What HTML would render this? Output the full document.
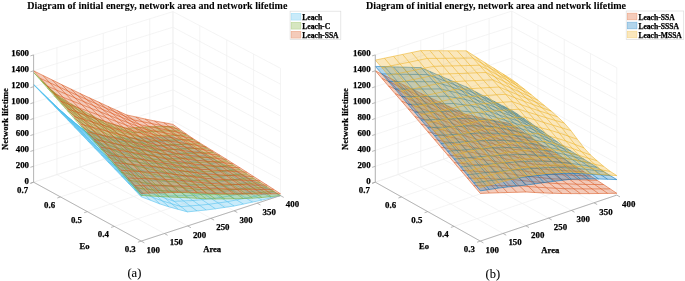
<!DOCTYPE html>
<html><head><meta charset="utf-8"><style>
html,body{margin:0;padding:0;background:#fff;width:685px;height:281px;overflow:hidden}
svg{display:block;will-change:transform}
text{font-family:"Liberation Serif",serif;fill:#000;stroke:#000;stroke-width:0.25px}
</style></head><body><svg width="685" height="281" viewBox="0 0 685 281" font-family="Liberation Serif, serif" fill="#000"><line x1="33.6" y1="182.2" x2="33.6" y2="54.9" stroke="#efefef" stroke-width="0.7"/><line x1="56.9" y1="174.6" x2="56.9" y2="47.7" stroke="#efefef" stroke-width="0.7"/><line x1="80.1" y1="167" x2="80.1" y2="40.5" stroke="#efefef" stroke-width="0.7"/><line x1="103.3" y1="159.4" x2="103.3" y2="33.2" stroke="#efefef" stroke-width="0.7"/><line x1="126.5" y1="151.9" x2="126.5" y2="26" stroke="#efefef" stroke-width="0.7"/><line x1="149.7" y1="144.3" x2="149.7" y2="18.8" stroke="#efefef" stroke-width="0.7"/><line x1="173" y1="136.7" x2="173" y2="11.6" stroke="#efefef" stroke-width="0.7"/><line x1="33.6" y1="182.2" x2="173" y2="136.7" stroke="#efefef" stroke-width="0.7"/><line x1="33.6" y1="166.3" x2="173" y2="121.1" stroke="#efefef" stroke-width="0.7"/><line x1="33.6" y1="150.4" x2="173" y2="105.4" stroke="#efefef" stroke-width="0.7"/><line x1="33.6" y1="134.5" x2="173" y2="89.8" stroke="#efefef" stroke-width="0.7"/><line x1="33.6" y1="118.5" x2="173" y2="74.1" stroke="#efefef" stroke-width="0.7"/><line x1="33.6" y1="102.6" x2="173" y2="58.5" stroke="#efefef" stroke-width="0.7"/><line x1="33.6" y1="86.7" x2="173" y2="42.8" stroke="#efefef" stroke-width="0.7"/><line x1="33.6" y1="70.8" x2="173" y2="27.2" stroke="#efefef" stroke-width="0.7"/><line x1="33.6" y1="54.9" x2="173" y2="11.6" stroke="#efefef" stroke-width="0.7"/><line x1="280.5" y1="195.6" x2="280.5" y2="68.3" stroke="#efefef" stroke-width="0.7"/><line x1="253.6" y1="180.9" x2="253.6" y2="54.1" stroke="#efefef" stroke-width="0.7"/><line x1="226.7" y1="166.1" x2="226.7" y2="39.9" stroke="#efefef" stroke-width="0.7"/><line x1="199.8" y1="151.4" x2="199.8" y2="25.7" stroke="#efefef" stroke-width="0.7"/><line x1="173" y1="136.7" x2="173" y2="11.6" stroke="#efefef" stroke-width="0.7"/><line x1="173" y1="136.7" x2="280.5" y2="195.6" stroke="#efefef" stroke-width="0.7"/><line x1="173" y1="121.1" x2="280.5" y2="179.7" stroke="#efefef" stroke-width="0.7"/><line x1="173" y1="105.4" x2="280.5" y2="163.8" stroke="#efefef" stroke-width="0.7"/><line x1="173" y1="89.8" x2="280.5" y2="147.9" stroke="#efefef" stroke-width="0.7"/><line x1="173" y1="74.1" x2="280.5" y2="131.9" stroke="#efefef" stroke-width="0.7"/><line x1="173" y1="58.5" x2="280.5" y2="116" stroke="#efefef" stroke-width="0.7"/><line x1="173" y1="42.8" x2="280.5" y2="100.1" stroke="#efefef" stroke-width="0.7"/><line x1="173" y1="27.2" x2="280.5" y2="84.2" stroke="#efefef" stroke-width="0.7"/><line x1="173" y1="11.6" x2="280.5" y2="68.3" stroke="#efefef" stroke-width="0.7"/><line x1="33.6" y1="182.2" x2="141.2" y2="241.1" stroke="#efefef" stroke-width="0.7"/><line x1="56.9" y1="174.6" x2="164.4" y2="233.5" stroke="#efefef" stroke-width="0.7"/><line x1="80.1" y1="167" x2="187.6" y2="225.9" stroke="#efefef" stroke-width="0.7"/><line x1="103.3" y1="159.4" x2="210.8" y2="218.3" stroke="#efefef" stroke-width="0.7"/><line x1="126.5" y1="151.9" x2="234.1" y2="210.8" stroke="#efefef" stroke-width="0.7"/><line x1="149.7" y1="144.3" x2="257.3" y2="203.2" stroke="#efefef" stroke-width="0.7"/><line x1="173" y1="136.7" x2="280.5" y2="195.6" stroke="#efefef" stroke-width="0.7"/><line x1="141.2" y1="241.1" x2="280.5" y2="195.6" stroke="#efefef" stroke-width="0.7"/><line x1="114.3" y1="226.4" x2="253.6" y2="180.9" stroke="#efefef" stroke-width="0.7"/><line x1="87.4" y1="211.6" x2="226.7" y2="166.1" stroke="#efefef" stroke-width="0.7"/><line x1="60.5" y1="196.9" x2="199.8" y2="151.4" stroke="#efefef" stroke-width="0.7"/><line x1="33.6" y1="182.2" x2="173" y2="136.7" stroke="#efefef" stroke-width="0.7"/><path d="M141.2,196.8 150.5,200.3 143.8,193.6 134.5,189.7ZM150.5,200.3 159.8,203.9 153.1,197.5 143.8,193.6ZM159.8,203.9 169.1,206.9 162.3,200.9 153.1,197.5ZM169.1,206.9 178.3,209.4 171.6,203.7 162.3,200.9ZM178.3,209.4 187.6,211.9 180.9,206.6 171.6,203.7ZM187.6,211.9 196.9,210.9 190.2,205.9 180.9,206.6ZM196.9,210.9 206.2,210 199.5,205.2 190.2,205.9ZM206.2,210 215.5,208.8 208.8,204.3 199.5,205.2ZM215.5,208.8 224.8,207.4 218.1,203 208.8,204.3ZM224.8,207.4 234.1,206 227.3,201.7 218.1,203ZM234.1,206 243.4,204.1 236.6,199.9 227.3,201.7ZM243.4,204.1 252.6,202.1 245.9,198.1 236.6,199.9ZM252.6,202.1 261.9,200.1 255.2,196.2 245.9,198.1ZM261.9,200.1 271.2,197.8 264.5,194 255.2,196.2ZM271.2,197.8 280.5,195.6 273.8,191.9 264.5,194ZM134.5,189.7 143.8,193.6 137,186.9 127.8,182.7ZM143.8,193.6 153.1,197.5 146.3,191.2 137,186.9ZM153.1,197.5 162.3,200.9 155.6,194.9 146.3,191.2ZM162.3,200.9 171.6,203.7 164.9,198.1 155.6,194.9ZM171.6,203.7 180.9,206.6 174.2,201.3 164.9,198.1ZM180.9,206.6 190.2,205.9 183.5,200.9 174.2,201.3ZM190.2,205.9 199.5,205.2 192.8,200.5 183.5,200.9ZM199.5,205.2 208.8,204.3 202,199.7 192.8,200.5ZM208.8,204.3 218.1,203 211.3,198.6 202,199.7ZM218.1,203 227.3,201.7 220.6,197.5 211.3,198.6ZM227.3,201.7 236.6,199.9 229.9,195.8 220.6,197.5ZM236.6,199.9 245.9,198.1 239.2,194.1 229.9,195.8ZM245.9,198.1 255.2,196.2 248.5,192.3 239.2,194.1ZM255.2,196.2 264.5,194 257.8,190.3 248.5,192.3ZM264.5,194 273.8,191.9 267.1,188.2 257.8,190.3ZM127.8,182.7 137,186.9 130.3,180.2 121,175.6ZM137,186.9 146.3,191.2 139.6,184.8 130.3,180.2ZM146.3,191.2 155.6,194.9 148.9,188.9 139.6,184.8ZM155.6,194.9 164.9,198.1 158.2,192.4 148.9,188.9ZM164.9,198.1 174.2,201.3 167.5,196 158.2,192.4ZM174.2,201.3 183.5,200.9 176.8,195.8 167.5,196ZM183.5,200.9 192.8,200.5 186,195.7 176.8,195.8ZM192.8,200.5 202,199.7 195.3,195.2 186,195.7ZM202,199.7 211.3,198.6 204.6,194.2 195.3,195.2ZM211.3,198.6 220.6,197.5 213.9,193.2 204.6,194.2ZM220.6,197.5 229.9,195.8 223.2,191.7 213.9,193.2ZM229.9,195.8 239.2,194.1 232.5,190.1 223.2,191.7ZM239.2,194.1 248.5,192.3 241.8,188.4 232.5,190.1ZM248.5,192.3 257.8,190.3 251,186.5 241.8,188.4ZM257.8,190.3 267.1,188.2 260.3,184.6 251,186.5ZM121,175.6 130.3,180.2 123.6,173.5 114.3,168.6ZM130.3,180.2 139.6,184.8 132.9,178.5 123.6,173.5ZM139.6,184.8 148.9,188.9 142.2,182.9 132.9,178.5ZM148.9,188.9 158.2,192.4 151.5,186.8 142.2,182.9ZM158.2,192.4 167.5,196 160.7,190.7 151.5,186.8ZM167.5,196 176.8,195.8 170,190.8 160.7,190.7ZM176.8,195.8 186,195.7 179.3,191 170,190.8ZM186,195.7 195.3,195.2 188.6,190.6 179.3,191ZM195.3,195.2 204.6,194.2 197.9,189.8 188.6,190.6ZM204.6,194.2 213.9,193.2 207.2,189 197.9,189.8ZM213.9,193.2 223.2,191.7 216.5,187.5 207.2,189ZM223.2,191.7 232.5,190.1 225.8,186.1 216.5,187.5ZM232.5,190.1 241.8,188.4 235,184.5 225.8,186.1ZM241.8,188.4 251,186.5 244.3,182.7 235,184.5ZM251,186.5 260.3,184.6 253.6,180.9 244.3,182.7ZM114.3,168.6 123.6,173.5 116.9,166.8 107.6,161.6ZM123.6,173.5 132.9,178.5 126.2,172.1 116.9,166.8ZM132.9,178.5 142.2,182.9 135.5,176.9 126.2,172.1ZM142.2,182.9 151.5,186.8 144.7,181.1 135.5,176.9ZM151.5,186.8 160.7,190.7 154,185.4 144.7,181.1ZM160.7,190.7 170,190.8 163.3,185.8 154,185.4ZM170,190.8 179.3,191 172.6,186.2 163.3,185.8ZM179.3,191 188.6,190.6 181.9,186.1 172.6,186.2ZM188.6,190.6 197.9,189.8 191.2,185.4 181.9,186.1ZM197.9,189.8 207.2,189 200.5,184.7 191.2,185.4ZM207.2,189 216.5,187.5 209.7,183.4 200.5,184.7ZM216.5,187.5 225.8,186.1 219,182.1 209.7,183.4ZM225.8,186.1 235,184.5 228.3,180.6 219,182.1ZM235,184.5 244.3,182.7 237.6,178.9 228.3,180.6ZM244.3,182.7 253.6,180.9 246.9,177.2 237.6,178.9ZM107.6,161.6 116.9,166.8 110.2,160.2 100.9,154.5ZM116.9,166.8 126.2,172.1 119.4,165.8 110.2,160.2ZM126.2,172.1 135.5,176.9 128.7,170.9 119.4,165.8ZM135.5,176.9 144.7,181.1 138,175.5 128.7,170.9ZM144.7,181.1 154,185.4 147.3,180.1 138,175.5ZM154,185.4 163.3,185.8 156.6,180.8 147.3,180.1ZM163.3,185.8 172.6,186.2 165.9,181.5 156.6,180.8ZM172.6,186.2 181.9,186.1 175.2,181.5 165.9,181.5ZM181.9,186.1 191.2,185.4 184.4,181 175.2,181.5ZM191.2,185.4 200.5,184.7 193.7,180.5 184.4,181ZM200.5,184.7 209.7,183.4 203,179.3 193.7,180.5ZM209.7,183.4 219,182.1 212.3,178.1 203,179.3ZM219,182.1 228.3,180.6 221.6,176.7 212.3,178.1ZM228.3,180.6 237.6,178.9 230.9,175.1 221.6,176.7ZM237.6,178.9 246.9,177.2 240.2,173.5 230.9,175.1ZM100.9,154.5 110.2,160.2 103.4,153.5 94.1,147.5ZM110.2,160.2 119.4,165.8 112.7,159.4 103.4,153.5ZM119.4,165.8 128.7,170.9 122,164.9 112.7,159.4ZM128.7,170.9 138,175.5 131.3,169.9 122,164.9ZM138,175.5 147.3,180.1 140.6,174.8 131.3,169.9ZM147.3,180.1 156.6,180.8 149.9,175.8 140.6,174.8ZM156.6,180.8 165.9,181.5 159.2,176.7 149.9,175.8ZM165.9,181.5 175.2,181.5 168.4,177 159.2,176.7ZM175.2,181.5 184.4,181 177.7,176.6 168.4,177ZM184.4,181 193.7,180.5 187,176.2 177.7,176.6ZM193.7,180.5 203,179.3 196.3,175.2 187,176.2ZM203,179.3 212.3,178.1 205.6,174.1 196.3,175.2ZM212.3,178.1 221.6,176.7 214.9,172.8 205.6,174.1ZM221.6,176.7 230.9,175.1 224.2,171.3 214.9,172.8ZM230.9,175.1 240.2,173.5 233.4,169.8 224.2,171.3ZM94.1,147.5 103.4,153.5 96.7,146.8 87.4,140.5ZM103.4,153.5 112.7,159.4 106,153.1 96.7,146.8ZM112.7,159.4 122,164.9 115.3,158.9 106,153.1ZM122,164.9 131.3,169.9 124.6,164.3 115.3,158.9ZM131.3,169.9 140.6,174.8 133.9,169.6 124.6,164.3ZM140.6,174.8 149.9,175.8 143.1,170.8 133.9,169.6ZM149.9,175.8 159.2,176.7 152.4,172 143.1,170.8ZM159.2,176.7 168.4,177 161.7,172.5 152.4,172ZM168.4,177 177.7,176.6 171,172.2 161.7,172.5ZM177.7,176.6 187,176.2 180.3,172 171,172.2ZM187,176.2 196.3,175.2 189.6,171 180.3,172ZM196.3,175.2 205.6,174.1 198.9,170.1 189.6,171ZM205.6,174.1 214.9,172.8 208.2,168.9 198.9,170.1ZM214.9,172.8 224.2,171.3 217.4,167.5 208.2,168.9ZM224.2,171.3 233.4,169.8 226.7,166.1 217.4,167.5ZM87.4,140.5 96.7,146.8 90,140.2 80.7,133.5ZM96.7,146.8 106,153.1 99.3,146.8 90,140.2ZM106,153.1 115.3,158.9 108.6,153 99.3,146.8ZM115.3,158.9 124.6,164.3 117.8,158.6 108.6,153ZM124.6,164.3 133.9,169.6 127.1,164.3 117.8,158.6ZM133.9,169.6 143.1,170.8 136.4,165.8 127.1,164.3ZM143.1,170.8 152.4,172 145.7,167.2 136.4,165.8ZM152.4,172 161.7,172.5 155,167.9 145.7,167.2ZM161.7,172.5 171,172.2 164.3,167.8 155,167.9ZM171,172.2 180.3,172 173.6,167.8 164.3,167.8ZM180.3,172 189.6,171 182.9,166.9 173.6,167.8ZM189.6,171 198.9,170.1 192.1,166.1 182.9,166.9ZM198.9,170.1 208.2,168.9 201.4,165 192.1,166.1ZM208.2,168.9 217.4,167.5 210.7,163.7 201.4,165ZM217.4,167.5 226.7,166.1 220,162.5 210.7,163.7ZM80.7,133.5 90,140.2 83.3,133.5 74,126.5ZM90,140.2 99.3,146.8 92.6,140.5 83.3,133.5ZM99.3,146.8 108.6,153 101.8,147 92.6,140.5ZM108.6,153 117.8,158.6 111.1,153 101.8,147ZM117.8,158.6 127.1,164.3 120.4,159 111.1,153ZM127.1,164.3 136.4,165.8 129.7,160.8 120.4,159ZM136.4,165.8 145.7,167.2 139,162.5 129.7,160.8ZM145.7,167.2 155,167.9 148.3,163.4 139,162.5ZM155,167.9 164.3,167.8 157.6,163.5 148.3,163.4ZM164.3,167.8 173.6,167.8 166.8,163.5 157.6,163.5ZM173.6,167.8 182.9,166.9 176.1,162.8 166.8,163.5ZM182.9,166.9 192.1,166.1 185.4,162.1 176.1,162.8ZM192.1,166.1 201.4,165 194.7,161.1 185.4,162.1ZM201.4,165 210.7,163.7 204,159.9 194.7,161.1ZM210.7,163.7 220,162.5 213.3,158.8 204,159.9ZM74,126.5 83.3,133.5 76.5,126.9 67.3,119.5ZM83.3,133.5 92.6,140.5 85.8,134.2 76.5,126.9ZM92.6,140.5 101.8,147 95.1,141 85.8,134.2ZM101.8,147 111.1,153 104.4,147.4 95.1,141ZM111.1,153 120.4,159 113.7,153.8 104.4,147.4ZM120.4,159 129.7,160.8 123,155.8 113.7,153.8ZM129.7,160.8 139,162.5 132.3,157.8 123,155.8ZM139,162.5 148.3,163.4 141.6,158.9 132.3,157.8ZM148.3,163.4 157.6,163.5 150.8,159.1 141.6,158.9ZM157.6,163.5 166.8,163.5 160.1,159.3 150.8,159.1ZM166.8,163.5 176.1,162.8 169.4,158.7 160.1,159.3ZM176.1,162.8 185.4,162.1 178.7,158 169.4,158.7ZM185.4,162.1 194.7,161.1 188,157.2 178.7,158ZM194.7,161.1 204,159.9 197.3,156.2 188,157.2ZM204,159.9 213.3,158.8 206.6,155.1 197.3,156.2ZM67.3,119.5 76.5,126.9 69.8,120.2 60.5,112.6ZM76.5,126.9 85.8,134.2 79.1,127.9 69.8,120.2ZM85.8,134.2 95.1,141 88.4,135.1 79.1,127.9ZM95.1,141 104.4,147.4 97.7,141.8 88.4,135.1ZM104.4,147.4 113.7,153.8 107,148.5 97.7,141.8ZM113.7,153.8 123,155.8 116.3,150.8 107,148.5ZM123,155.8 132.3,157.8 125.5,153 116.3,150.8ZM132.3,157.8 141.6,158.9 134.8,154.3 125.5,153ZM141.6,158.9 150.8,159.1 144.1,154.7 134.8,154.3ZM150.8,159.1 160.1,159.3 153.4,155 144.1,154.7ZM160.1,159.3 169.4,158.7 162.7,154.5 153.4,155ZM169.4,158.7 178.7,158 172,154 162.7,154.5ZM178.7,158 188,157.2 181.3,153.3 172,154ZM188,157.2 197.3,156.2 190.6,152.4 181.3,153.3ZM197.3,156.2 206.6,155.1 199.8,151.4 190.6,152.4ZM60.5,112.6 69.8,120.2 63.1,113.6 53.8,105.6ZM69.8,120.2 79.1,127.9 72.4,121.6 63.1,113.6ZM79.1,127.9 88.4,135.1 81.7,129.1 72.4,121.6ZM88.4,135.1 97.7,141.8 91,136.2 81.7,129.1ZM97.7,141.8 107,148.5 100.2,143.2 91,136.2ZM107,148.5 116.3,150.8 109.5,145.8 100.2,143.2ZM116.3,150.8 125.5,153 118.8,148.3 109.5,145.8ZM125.5,153 134.8,154.3 128.1,149.8 118.8,148.3ZM134.8,154.3 144.1,154.7 137.4,150.3 128.1,149.8ZM144.1,154.7 153.4,155 146.7,150.8 137.4,150.3ZM153.4,155 162.7,154.5 156,150.4 146.7,150.8ZM162.7,154.5 172,154 165.3,150 156,150.4ZM172,154 181.3,153.3 174.5,149.4 165.3,150ZM181.3,153.3 190.6,152.4 183.8,148.6 174.5,149.4ZM190.6,152.4 199.8,151.4 193.1,147.7 183.8,148.6ZM53.8,105.6 63.1,113.6 56.4,107 47.1,98.6ZM63.1,113.6 72.4,121.6 65.7,115.3 56.4,107ZM72.4,121.6 81.7,129.1 75,123.1 65.7,115.3ZM81.7,129.1 91,136.2 84.2,130.6 75,123.1ZM91,136.2 100.2,143.2 93.5,138 84.2,130.6ZM100.2,143.2 109.5,145.8 102.8,140.8 93.5,138ZM109.5,145.8 118.8,148.3 112.1,143.6 102.8,140.8ZM118.8,148.3 128.1,149.8 121.4,145.3 112.1,143.6ZM128.1,149.8 137.4,150.3 130.7,145.9 121.4,145.3ZM137.4,150.3 146.7,150.8 140,146.6 130.7,145.9ZM146.7,150.8 156,150.4 149.2,146.3 140,146.6ZM156,150.4 165.3,150 158.5,146 149.2,146.3ZM165.3,150 174.5,149.4 167.8,145.5 158.5,146ZM174.5,149.4 183.8,148.6 177.1,144.8 167.8,145.5ZM183.8,148.6 193.1,147.7 186.4,144.1 177.1,144.8ZM47.1,98.6 56.4,107 49.7,100.3 40.4,91.7ZM56.4,107 65.7,115.3 58.9,109 49.7,100.3ZM65.7,115.3 75,123.1 68.2,117.2 58.9,109ZM75,123.1 84.2,130.6 77.5,125 68.2,117.2ZM84.2,130.6 93.5,138 86.8,132.7 77.5,125ZM93.5,138 102.8,140.8 96.1,135.8 86.8,132.7ZM102.8,140.8 112.1,143.6 105.4,138.9 96.1,135.8ZM112.1,143.6 121.4,145.3 114.7,140.8 105.4,138.9ZM121.4,145.3 130.7,145.9 124,141.6 114.7,140.8ZM130.7,145.9 140,146.6 133.2,142.3 124,141.6ZM140,146.6 149.2,146.3 142.5,142.2 133.2,142.3ZM149.2,146.3 158.5,146 151.8,142 142.5,142.2ZM158.5,146 167.8,145.5 161.1,141.6 151.8,142ZM167.8,145.5 177.1,144.8 170.4,141 161.1,141.6ZM177.1,144.8 186.4,144.1 179.7,140.4 170.4,141ZM40.4,91.7 49.7,100.3 42.9,93.7 33.6,84.7ZM49.7,100.3 58.9,109 52.2,102.7 42.9,93.7ZM58.9,109 68.2,117.2 61.5,111.3 52.2,102.7ZM68.2,117.2 77.5,125 70.8,119.4 61.5,111.3ZM77.5,125 86.8,132.7 80.1,127.5 70.8,119.4ZM86.8,132.7 96.1,135.8 89.4,130.8 80.1,127.5ZM96.1,135.8 105.4,138.9 98.7,134.1 89.4,130.8ZM105.4,138.9 114.7,140.8 107.9,136.3 98.7,134.1ZM114.7,140.8 124,141.6 117.2,137.2 107.9,136.3ZM124,141.6 133.2,142.3 126.5,138.1 117.2,137.2ZM133.2,142.3 142.5,142.2 135.8,138.1 126.5,138.1ZM142.5,142.2 151.8,142 145.1,138 135.8,138.1ZM151.8,142 161.1,141.6 154.4,137.7 145.1,138ZM161.1,141.6 170.4,141 163.7,137.2 154.4,137.7ZM170.4,141 179.7,140.4 173,136.7 163.7,137.2Z" fill="#4DBEEE" fill-opacity="0.3" stroke="none"/><path d="M141.2,196.8 150.5,200.3 159.8,203.9 169.1,206.9 178.3,209.4 187.6,211.9 196.9,210.9 206.2,210 215.5,208.8 224.8,207.4 234.1,206 243.4,204.1 252.6,202.1 261.9,200.1 271.2,197.8 280.5,195.6M134.5,189.7 143.8,193.6 153.1,197.5 162.3,200.9 171.6,203.7 180.9,206.6 190.2,205.9 199.5,205.2 208.8,204.3 218.1,203 227.3,201.7 236.6,199.9 245.9,198.1 255.2,196.2 264.5,194 273.8,191.9M127.8,182.7 137,186.9 146.3,191.2 155.6,194.9 164.9,198.1 174.2,201.3 183.5,200.9 192.8,200.5 202,199.7 211.3,198.6 220.6,197.5 229.9,195.8 239.2,194.1 248.5,192.3 257.8,190.3 267.1,188.2M121,175.6 130.3,180.2 139.6,184.8 148.9,188.9 158.2,192.4 167.5,196 176.8,195.8 186,195.7 195.3,195.2 204.6,194.2 213.9,193.2 223.2,191.7 232.5,190.1 241.8,188.4 251,186.5 260.3,184.6M114.3,168.6 123.6,173.5 132.9,178.5 142.2,182.9 151.5,186.8 160.7,190.7 170,190.8 179.3,191 188.6,190.6 197.9,189.8 207.2,189 216.5,187.5 225.8,186.1 235,184.5 244.3,182.7 253.6,180.9M107.6,161.6 116.9,166.8 126.2,172.1 135.5,176.9 144.7,181.1 154,185.4 163.3,185.8 172.6,186.2 181.9,186.1 191.2,185.4 200.5,184.7 209.7,183.4 219,182.1 228.3,180.6 237.6,178.9 246.9,177.2M100.9,154.5 110.2,160.2 119.4,165.8 128.7,170.9 138,175.5 147.3,180.1 156.6,180.8 165.9,181.5 175.2,181.5 184.4,181 193.7,180.5 203,179.3 212.3,178.1 221.6,176.7 230.9,175.1 240.2,173.5M94.1,147.5 103.4,153.5 112.7,159.4 122,164.9 131.3,169.9 140.6,174.8 149.9,175.8 159.2,176.7 168.4,177 177.7,176.6 187,176.2 196.3,175.2 205.6,174.1 214.9,172.8 224.2,171.3 233.4,169.8M87.4,140.5 96.7,146.8 106,153.1 115.3,158.9 124.6,164.3 133.9,169.6 143.1,170.8 152.4,172 161.7,172.5 171,172.2 180.3,172 189.6,171 198.9,170.1 208.2,168.9 217.4,167.5 226.7,166.1M80.7,133.5 90,140.2 99.3,146.8 108.6,153 117.8,158.6 127.1,164.3 136.4,165.8 145.7,167.2 155,167.9 164.3,167.8 173.6,167.8 182.9,166.9 192.1,166.1 201.4,165 210.7,163.7 220,162.5M74,126.5 83.3,133.5 92.6,140.5 101.8,147 111.1,153 120.4,159 129.7,160.8 139,162.5 148.3,163.4 157.6,163.5 166.8,163.5 176.1,162.8 185.4,162.1 194.7,161.1 204,159.9 213.3,158.8M67.3,119.5 76.5,126.9 85.8,134.2 95.1,141 104.4,147.4 113.7,153.8 123,155.8 132.3,157.8 141.6,158.9 150.8,159.1 160.1,159.3 169.4,158.7 178.7,158 188,157.2 197.3,156.2 206.6,155.1M60.5,112.6 69.8,120.2 79.1,127.9 88.4,135.1 97.7,141.8 107,148.5 116.3,150.8 125.5,153 134.8,154.3 144.1,154.7 153.4,155 162.7,154.5 172,154 181.3,153.3 190.6,152.4 199.8,151.4M53.8,105.6 63.1,113.6 72.4,121.6 81.7,129.1 91,136.2 100.2,143.2 109.5,145.8 118.8,148.3 128.1,149.8 137.4,150.3 146.7,150.8 156,150.4 165.3,150 174.5,149.4 183.8,148.6 193.1,147.7M47.1,98.6 56.4,107 65.7,115.3 75,123.1 84.2,130.6 93.5,138 102.8,140.8 112.1,143.6 121.4,145.3 130.7,145.9 140,146.6 149.2,146.3 158.5,146 167.8,145.5 177.1,144.8 186.4,144.1M40.4,91.7 49.7,100.3 58.9,109 68.2,117.2 77.5,125 86.8,132.7 96.1,135.8 105.4,138.9 114.7,140.8 124,141.6 133.2,142.3 142.5,142.2 151.8,142 161.1,141.6 170.4,141 179.7,140.4M33.6,84.7 42.9,93.7 52.2,102.7 61.5,111.3 70.8,119.4 80.1,127.5 89.4,130.8 98.7,134.1 107.9,136.3 117.2,137.2 126.5,138.1 135.8,138.1 145.1,138 154.4,137.7 163.7,137.2 173,136.7M141.2,196.8 134.5,189.7 127.8,182.7 121,175.6 114.3,168.6 107.6,161.6 100.9,154.5 94.1,147.5 87.4,140.5 80.7,133.5 74,126.5 67.3,119.5 60.5,112.6 53.8,105.6 47.1,98.6 40.4,91.7 33.6,84.7M150.5,200.3 143.8,193.6 137,186.9 130.3,180.2 123.6,173.5 116.9,166.8 110.2,160.2 103.4,153.5 96.7,146.8 90,140.2 83.3,133.5 76.5,126.9 69.8,120.2 63.1,113.6 56.4,107 49.7,100.3 42.9,93.7M159.8,203.9 153.1,197.5 146.3,191.2 139.6,184.8 132.9,178.5 126.2,172.1 119.4,165.8 112.7,159.4 106,153.1 99.3,146.8 92.6,140.5 85.8,134.2 79.1,127.9 72.4,121.6 65.7,115.3 58.9,109 52.2,102.7M169.1,206.9 162.3,200.9 155.6,194.9 148.9,188.9 142.2,182.9 135.5,176.9 128.7,170.9 122,164.9 115.3,158.9 108.6,153 101.8,147 95.1,141 88.4,135.1 81.7,129.1 75,123.1 68.2,117.2 61.5,111.3M178.3,209.4 171.6,203.7 164.9,198.1 158.2,192.4 151.5,186.8 144.7,181.1 138,175.5 131.3,169.9 124.6,164.3 117.8,158.6 111.1,153 104.4,147.4 97.7,141.8 91,136.2 84.2,130.6 77.5,125 70.8,119.4M187.6,211.9 180.9,206.6 174.2,201.3 167.5,196 160.7,190.7 154,185.4 147.3,180.1 140.6,174.8 133.9,169.6 127.1,164.3 120.4,159 113.7,153.8 107,148.5 100.2,143.2 93.5,138 86.8,132.7 80.1,127.5M196.9,210.9 190.2,205.9 183.5,200.9 176.8,195.8 170,190.8 163.3,185.8 156.6,180.8 149.9,175.8 143.1,170.8 136.4,165.8 129.7,160.8 123,155.8 116.3,150.8 109.5,145.8 102.8,140.8 96.1,135.8 89.4,130.8M206.2,210 199.5,205.2 192.8,200.5 186,195.7 179.3,191 172.6,186.2 165.9,181.5 159.2,176.7 152.4,172 145.7,167.2 139,162.5 132.3,157.8 125.5,153 118.8,148.3 112.1,143.6 105.4,138.9 98.7,134.1M215.5,208.8 208.8,204.3 202,199.7 195.3,195.2 188.6,190.6 181.9,186.1 175.2,181.5 168.4,177 161.7,172.5 155,167.9 148.3,163.4 141.6,158.9 134.8,154.3 128.1,149.8 121.4,145.3 114.7,140.8 107.9,136.3M224.8,207.4 218.1,203 211.3,198.6 204.6,194.2 197.9,189.8 191.2,185.4 184.4,181 177.7,176.6 171,172.2 164.3,167.8 157.6,163.5 150.8,159.1 144.1,154.7 137.4,150.3 130.7,145.9 124,141.6 117.2,137.2M234.1,206 227.3,201.7 220.6,197.5 213.9,193.2 207.2,189 200.5,184.7 193.7,180.5 187,176.2 180.3,172 173.6,167.8 166.8,163.5 160.1,159.3 153.4,155 146.7,150.8 140,146.6 133.2,142.3 126.5,138.1M243.4,204.1 236.6,199.9 229.9,195.8 223.2,191.7 216.5,187.5 209.7,183.4 203,179.3 196.3,175.2 189.6,171 182.9,166.9 176.1,162.8 169.4,158.7 162.7,154.5 156,150.4 149.2,146.3 142.5,142.2 135.8,138.1M252.6,202.1 245.9,198.1 239.2,194.1 232.5,190.1 225.8,186.1 219,182.1 212.3,178.1 205.6,174.1 198.9,170.1 192.1,166.1 185.4,162.1 178.7,158 172,154 165.3,150 158.5,146 151.8,142 145.1,138M261.9,200.1 255.2,196.2 248.5,192.3 241.8,188.4 235,184.5 228.3,180.6 221.6,176.7 214.9,172.8 208.2,168.9 201.4,165 194.7,161.1 188,157.2 181.3,153.3 174.5,149.4 167.8,145.5 161.1,141.6 154.4,137.7M271.2,197.8 264.5,194 257.8,190.3 251,186.5 244.3,182.7 237.6,178.9 230.9,175.1 224.2,171.3 217.4,167.5 210.7,163.7 204,159.9 197.3,156.2 190.6,152.4 183.8,148.6 177.1,144.8 170.4,141 163.7,137.2M280.5,195.6 273.8,191.9 267.1,188.2 260.3,184.6 253.6,180.9 246.9,177.2 240.2,173.5 233.4,169.8 226.7,166.1 220,162.5 213.3,158.8 206.6,155.1 199.8,151.4 193.1,147.7 186.4,144.1 179.7,140.4 173,136.7" fill="none" stroke="#4DBEEE" stroke-width="0.55" stroke-linejoin="round"/><path d="M141.2,196.8 134.5,189.7 127.8,182.7 121,175.6 114.3,168.6 107.6,161.6 100.9,154.5 94.1,147.5 87.4,140.5 80.7,133.5 74,126.5 67.3,119.5 60.5,112.6 53.8,105.6 47.1,98.6 40.4,91.7 33.6,84.7 34.2,84.2 41.1,91 48,97.8 54.8,104.6 61.7,111.5 68.6,118.3 75.4,125.1 82.3,132 89.2,138.9 96,145.7 102.9,152.6 109.8,159.5 116.6,166.4 123.5,173.3 130.4,180.2 137.2,187.1 144.1,194Z" fill="#4DBEEE" fill-opacity="0.6" stroke="none"/><path d="M141.2,195.4 150.5,196 143.8,188.8 134.5,187.6ZM150.5,196 159.8,196.5 153.1,189.9 143.8,188.8ZM159.8,196.5 169.1,197 162.3,190.8 153.1,189.9ZM169.1,197 178.3,197.4 171.6,191.5 162.3,190.8ZM178.3,197.4 187.6,197.8 180.9,192.2 171.6,191.5ZM187.6,197.8 196.9,198.3 190.2,193 180.9,192.2ZM196.9,198.3 206.2,198.8 199.5,193.8 190.2,193ZM206.2,198.8 215.5,199 208.8,194.3 199.5,193.8ZM215.5,199 224.8,198.9 218.1,194.3 208.8,194.3ZM224.8,198.9 234.1,198.8 227.3,194.3 218.1,194.3ZM234.1,198.8 243.4,198.5 236.6,194 227.3,194.3ZM243.4,198.5 252.6,198.2 245.9,193.7 236.6,194ZM252.6,198.2 261.9,197.5 255.2,193.1 245.9,193.7ZM261.9,197.5 271.2,196.6 264.5,192.2 255.2,193.1ZM271.2,196.6 280.5,195.6 273.8,191.3 264.5,192.2ZM134.5,187.6 143.8,188.8 137,181.6 127.8,179.9ZM143.8,188.8 153.1,189.9 146.3,183.2 137,181.6ZM153.1,189.9 162.3,190.8 155.6,184.6 146.3,183.2ZM162.3,190.8 171.6,191.5 164.9,185.6 155.6,184.6ZM171.6,191.5 180.9,192.2 174.2,186.7 164.9,185.6ZM180.9,192.2 190.2,193 183.5,187.7 174.2,186.7ZM190.2,193 199.5,193.8 192.8,188.8 183.5,187.7ZM199.5,193.8 208.8,194.3 202,189.5 192.8,188.8ZM208.8,194.3 218.1,194.3 211.3,189.7 202,189.5ZM218.1,194.3 227.3,194.3 220.6,189.9 211.3,189.7ZM227.3,194.3 236.6,194 229.9,189.6 220.6,189.9ZM236.6,194 245.9,193.7 239.2,189.2 229.9,189.6ZM245.9,193.7 255.2,193.1 248.5,188.6 239.2,189.2ZM255.2,193.1 264.5,192.2 257.8,187.8 248.5,188.6ZM264.5,192.2 273.8,191.3 267.1,186.9 257.8,187.8ZM127.8,179.9 137,181.6 130.3,174.4 121,172.2ZM137,181.6 146.3,183.2 139.6,176.6 130.3,174.4ZM146.3,183.2 155.6,184.6 148.9,178.3 139.6,176.6ZM155.6,184.6 164.9,185.6 158.2,179.7 148.9,178.3ZM164.9,185.6 174.2,186.7 167.5,181.1 158.2,179.7ZM174.2,186.7 183.5,187.7 176.8,182.5 167.5,181.1ZM183.5,187.7 192.8,188.8 186,183.8 176.8,182.5ZM192.8,188.8 202,189.5 195.3,184.7 186,183.8ZM202,189.5 211.3,189.7 204.6,185.1 195.3,184.7ZM211.3,189.7 220.6,189.9 213.9,185.5 204.6,185.1ZM220.6,189.9 229.9,189.6 223.2,185.1 213.9,185.5ZM229.9,189.6 239.2,189.2 232.5,184.8 223.2,185.1ZM239.2,189.2 248.5,188.6 241.8,184.2 232.5,184.8ZM248.5,188.6 257.8,187.8 251,183.4 241.8,184.2ZM257.8,187.8 267.1,186.9 260.3,182.6 251,183.4ZM121,172.2 130.3,174.4 123.6,167.2 114.3,164.4ZM130.3,174.4 139.6,176.6 132.9,169.9 123.6,167.2ZM139.6,176.6 148.9,178.3 142.2,172.1 132.9,169.9ZM148.9,178.3 158.2,179.7 151.5,173.9 142.2,172.1ZM158.2,179.7 167.5,181.1 160.7,175.6 151.5,173.9ZM167.5,181.1 176.8,182.5 170,177.2 160.7,175.6ZM176.8,182.5 186,183.8 179.3,178.8 170,177.2ZM186,183.8 195.3,184.7 188.6,179.9 179.3,178.8ZM195.3,184.7 204.6,185.1 197.9,180.5 188.6,179.9ZM204.6,185.1 213.9,185.5 207.2,181.1 197.9,180.5ZM213.9,185.5 223.2,185.1 216.5,180.7 207.2,181.1ZM223.2,185.1 232.5,184.8 225.8,180.3 216.5,180.7ZM232.5,184.8 241.8,184.2 235,179.8 225.8,180.3ZM241.8,184.2 251,183.4 244.3,179 235,179.8ZM251,183.4 260.3,182.6 253.6,178.3 244.3,179ZM114.3,164.4 123.6,167.2 116.9,160 107.6,156.7ZM123.6,167.2 132.9,169.9 126.2,163.3 116.9,160ZM132.9,169.9 142.2,172.1 135.5,165.9 126.2,163.3ZM142.2,172.1 151.5,173.9 144.7,168 135.5,165.9ZM151.5,173.9 160.7,175.6 154,170 144.7,168ZM160.7,175.6 170,177.2 163.3,171.9 154,170ZM170,177.2 179.3,178.8 172.6,173.8 163.3,171.9ZM179.3,178.8 188.6,179.9 181.9,175.2 172.6,173.8ZM188.6,179.9 197.9,180.5 191.2,175.9 181.9,175.2ZM197.9,180.5 207.2,181.1 200.5,176.7 191.2,175.9ZM207.2,181.1 216.5,180.7 209.7,176.3 200.5,176.7ZM216.5,180.7 225.8,180.3 219,175.9 209.7,176.3ZM225.8,180.3 235,179.8 228.3,175.3 219,175.9ZM235,179.8 244.3,179 237.6,174.7 228.3,175.3ZM244.3,179 253.6,178.3 246.9,174 237.6,174.7ZM107.6,156.7 116.9,160 110.2,152.8 100.9,149ZM116.9,160 126.2,163.3 119.4,156.7 110.2,152.8ZM126.2,163.3 135.5,165.9 128.7,159.7 119.4,156.7ZM135.5,165.9 144.7,168 138,162.1 128.7,159.7ZM144.7,168 154,170 147.3,164.5 138,162.1ZM154,170 163.3,171.9 156.6,166.7 147.3,164.5ZM163.3,171.9 172.6,173.8 165.9,168.9 156.6,166.7ZM172.6,173.8 181.9,175.2 175.2,170.4 165.9,168.9ZM181.9,175.2 191.2,175.9 184.4,171.4 175.2,170.4ZM191.2,175.9 200.5,176.7 193.7,172.3 184.4,171.4ZM200.5,176.7 209.7,176.3 203,171.8 193.7,172.3ZM209.7,176.3 219,175.9 212.3,171.4 203,171.8ZM219,175.9 228.3,175.3 221.6,170.9 212.3,171.4ZM228.3,175.3 237.6,174.7 230.9,170.3 221.6,170.9ZM237.6,174.7 246.9,174 240.2,169.7 230.9,170.3ZM100.9,149 110.2,152.8 103.4,145.7 94.1,141.3ZM110.2,152.8 119.4,156.7 112.7,150 103.4,145.7ZM119.4,156.7 128.7,159.7 122,153.6 112.7,150ZM128.7,159.7 138,162.1 131.3,156.2 122,153.6ZM138,162.1 147.3,164.5 140.6,158.9 131.3,156.2ZM147.3,164.5 156.6,166.7 149.9,161.4 140.6,158.9ZM156.6,166.7 165.9,168.9 159.2,163.9 149.9,161.4ZM165.9,168.9 175.2,170.4 168.4,165.7 159.2,163.9ZM175.2,170.4 184.4,171.4 177.7,166.8 168.4,165.7ZM184.4,171.4 193.7,172.3 187,167.9 177.7,166.8ZM193.7,172.3 203,171.8 196.3,167.4 187,167.9ZM203,171.8 212.3,171.4 205.6,167 196.3,167.4ZM212.3,171.4 221.6,170.9 214.9,166.4 205.6,167ZM221.6,170.9 230.9,170.3 224.2,165.9 214.9,166.4ZM230.9,170.3 240.2,169.7 233.4,165.3 224.2,165.9ZM94.1,141.3 103.4,145.7 96.7,138.5 87.4,133.6ZM103.4,145.7 112.7,150 106,143.4 96.7,138.5ZM112.7,150 122,153.6 115.3,147.4 106,143.4ZM122,153.6 131.3,156.2 124.6,150.4 115.3,147.4ZM131.3,156.2 140.6,158.9 133.9,153.4 124.6,150.4ZM140.6,158.9 149.9,161.4 143.1,156.2 133.9,153.4ZM149.9,161.4 159.2,163.9 152.4,158.9 143.1,156.2ZM159.2,163.9 168.4,165.7 161.7,160.9 152.4,158.9ZM168.4,165.7 177.7,166.8 171,162.2 161.7,160.9ZM177.7,166.8 187,167.9 180.3,163.5 171,162.2ZM187,167.9 196.3,167.4 189.6,163 180.3,163.5ZM196.3,167.4 205.6,167 198.9,162.5 189.6,163ZM205.6,167 214.9,166.4 208.2,162 198.9,162.5ZM214.9,166.4 224.2,165.9 217.4,161.5 208.2,162ZM224.2,165.9 233.4,165.3 226.7,161 217.4,161.5ZM87.4,133.6 96.7,138.5 90,131.4 80.7,125.9ZM96.7,138.5 106,143.4 99.3,136.8 90,131.4ZM106,143.4 115.3,147.4 108.6,141.2 99.3,136.8ZM115.3,147.4 124.6,150.4 117.8,144.5 108.6,141.2ZM124.6,150.4 133.9,153.4 127.1,147.9 117.8,144.5ZM133.9,153.4 143.1,156.2 136.4,150.9 127.1,147.9ZM143.1,156.2 152.4,158.9 145.7,153.9 136.4,150.9ZM152.4,158.9 161.7,160.9 155,156.1 145.7,153.9ZM161.7,160.9 171,162.2 164.3,157.6 155,156.1ZM171,162.2 180.3,163.5 173.6,159.1 164.3,157.6ZM180.3,163.5 189.6,163 182.9,158.6 173.6,159.1ZM189.6,163 198.9,162.5 192.1,158.1 182.9,158.6ZM198.9,162.5 208.2,162 201.4,157.6 192.1,158.1ZM208.2,162 217.4,161.5 210.7,157.1 201.4,157.6ZM217.4,161.5 226.7,161 220,156.7 210.7,157.1ZM80.7,125.9 90,131.4 83.3,124.2 74,118.3ZM90,131.4 99.3,136.8 92.6,130.2 83.3,124.2ZM99.3,136.8 108.6,141.2 101.8,135 92.6,130.2ZM108.6,141.2 117.8,144.5 111.1,138.7 101.8,135ZM117.8,144.5 127.1,147.9 120.4,142.3 111.1,138.7ZM127.1,147.9 136.4,150.9 129.7,145.6 120.4,142.3ZM136.4,150.9 145.7,153.9 139,148.9 129.7,145.6ZM145.7,153.9 155,156.1 148.3,151.4 139,148.9ZM155,156.1 164.3,157.6 157.6,153 148.3,151.4ZM164.3,157.6 173.6,159.1 166.8,154.7 157.6,153ZM173.6,159.1 182.9,158.6 176.1,154.1 166.8,154.7ZM182.9,158.6 192.1,158.1 185.4,153.6 176.1,154.1ZM192.1,158.1 201.4,157.6 194.7,153.2 185.4,153.6ZM201.4,157.6 210.7,157.1 204,152.8 194.7,153.2ZM210.7,157.1 220,156.7 213.3,152.4 204,152.8ZM74,118.3 83.3,124.2 76.5,117.1 67.3,110.6ZM83.3,124.2 92.6,130.2 85.8,123.6 76.5,117.1ZM92.6,130.2 101.8,135 95.1,128.9 85.8,123.6ZM101.8,135 111.1,138.7 104.4,132.8 95.1,128.9ZM111.1,138.7 120.4,142.3 113.7,136.8 104.4,132.8ZM120.4,142.3 129.7,145.6 123,140.4 113.7,136.8ZM129.7,145.6 139,148.9 132.3,144 123,140.4ZM139,148.9 148.3,151.4 141.6,146.6 132.3,144ZM148.3,151.4 157.6,153 150.8,148.5 141.6,146.6ZM157.6,153 166.8,154.7 160.1,150.3 150.8,148.5ZM166.8,154.7 176.1,154.1 169.4,149.7 160.1,150.3ZM176.1,154.1 185.4,153.6 178.7,149.2 169.4,149.7ZM185.4,153.6 194.7,153.2 188,148.7 178.7,149.2ZM194.7,153.2 204,152.8 197.3,148.4 188,148.7ZM204,152.8 213.3,152.4 206.6,148.1 197.3,148.4ZM67.3,110.6 76.5,117.1 69.8,110 60.5,102.9ZM76.5,117.1 85.8,123.6 79.1,117 69.8,110ZM85.8,123.6 95.1,128.9 88.4,122.7 79.1,117ZM95.1,128.9 104.4,132.8 97.7,127 88.4,122.7ZM104.4,132.8 113.7,136.8 107,131.3 97.7,127ZM113.7,136.8 123,140.4 116.3,135.2 107,131.3ZM123,140.4 132.3,144 125.5,139 116.3,135.2ZM132.3,144 141.6,146.6 134.8,141.9 125.5,139ZM141.6,146.6 150.8,148.5 144.1,143.9 134.8,141.9ZM150.8,148.5 160.1,150.3 153.4,145.9 144.1,143.9ZM160.1,150.3 169.4,149.7 162.7,145.3 153.4,145.9ZM169.4,149.7 178.7,149.2 172,144.7 162.7,145.3ZM178.7,149.2 188,148.7 181.3,144.3 172,144.7ZM188,148.7 197.3,148.4 190.6,144 181.3,144.3ZM197.3,148.4 206.6,148.1 199.8,143.8 190.6,144ZM60.5,102.9 69.8,110 63.1,102.9 53.8,95.3ZM69.8,110 79.1,117 72.4,110.4 63.1,102.9ZM79.1,117 88.4,122.7 81.7,116.5 72.4,110.4ZM88.4,122.7 97.7,127 91,121.2 81.7,116.5ZM97.7,127 107,131.3 100.2,125.8 91,121.2ZM107,131.3 116.3,135.2 109.5,129.9 100.2,125.8ZM116.3,135.2 125.5,139 118.8,134 109.5,129.9ZM125.5,139 134.8,141.9 128.1,137.2 118.8,134ZM134.8,141.9 144.1,143.9 137.4,139.3 128.1,137.2ZM144.1,143.9 153.4,145.9 146.7,141.5 137.4,139.3ZM153.4,145.9 162.7,145.3 156,140.9 146.7,141.5ZM162.7,145.3 172,144.7 165.3,140.3 156,140.9ZM172,144.7 181.3,144.3 174.5,139.9 165.3,140.3ZM181.3,144.3 190.6,144 183.8,139.7 174.5,139.9ZM190.6,144 199.8,143.8 193.1,139.5 183.8,139.7ZM53.8,95.3 63.1,102.9 56.4,95.8 47.1,87.7ZM63.1,102.9 72.4,110.4 65.7,103.9 56.4,95.8ZM72.4,110.4 81.7,116.5 75,110.4 65.7,103.9ZM81.7,116.5 91,121.2 84.2,115.3 75,110.4ZM91,121.2 100.2,125.8 93.5,120.3 84.2,115.3ZM100.2,125.8 109.5,129.9 102.8,124.7 93.5,120.3ZM109.5,129.9 118.8,134 112.1,129.1 102.8,124.7ZM118.8,134 128.1,137.2 121.4,132.4 112.1,129.1ZM128.1,137.2 137.4,139.3 130.7,134.7 121.4,132.4ZM137.4,139.3 146.7,141.5 140,137.1 130.7,134.7ZM146.7,141.5 156,140.9 149.2,136.5 140,137.1ZM156,140.9 165.3,140.3 158.5,135.8 149.2,136.5ZM165.3,140.3 174.5,139.9 167.8,135.5 158.5,135.8ZM174.5,139.9 183.8,139.7 177.1,135.3 167.8,135.5ZM183.8,139.7 193.1,139.5 186.4,135.1 177.1,135.3ZM47.1,87.7 56.4,95.8 49.7,88.7 40.4,80ZM56.4,95.8 65.7,103.9 58.9,97.3 49.7,88.7ZM65.7,103.9 75,110.4 68.2,104.2 58.9,97.3ZM75,110.4 84.2,115.3 77.5,109.5 68.2,104.2ZM84.2,115.3 93.5,120.3 86.8,114.8 77.5,109.5ZM93.5,120.3 102.8,124.7 96.1,119.4 86.8,114.8ZM102.8,124.7 112.1,129.1 105.4,124.1 96.1,119.4ZM112.1,129.1 121.4,132.4 114.7,127.7 105.4,124.1ZM121.4,132.4 130.7,134.7 124,130.2 114.7,127.7ZM130.7,134.7 140,137.1 133.2,132.7 124,130.2ZM140,137.1 149.2,136.5 142.5,132 133.2,132.7ZM149.2,136.5 158.5,135.8 151.8,131.4 142.5,132ZM158.5,135.8 167.8,135.5 161.1,131 151.8,131.4ZM167.8,135.5 177.1,135.3 170.4,130.9 161.1,131ZM177.1,135.3 186.4,135.1 179.7,130.8 170.4,130.9ZM40.4,80 49.7,88.7 42.9,81.6 33.6,72.4ZM49.7,88.7 58.9,97.3 52.2,90.7 42.9,81.6ZM58.9,97.3 68.2,104.2 61.5,98.1 52.2,90.7ZM68.2,104.2 77.5,109.5 70.8,103.7 61.5,98.1ZM77.5,109.5 86.8,114.8 80.1,109.3 70.8,103.7ZM86.8,114.8 96.1,119.4 89.4,114.2 80.1,109.3ZM96.1,119.4 105.4,124.1 98.7,119.1 89.4,114.2ZM105.4,124.1 114.7,127.7 107.9,122.9 98.7,119.1ZM114.7,127.7 124,130.2 117.2,125.6 107.9,122.9ZM124,130.2 133.2,132.7 126.5,128.3 117.2,125.6ZM133.2,132.7 142.5,132 135.8,127.6 126.5,128.3ZM142.5,132 151.8,131.4 145.1,127 135.8,127.6ZM151.8,131.4 161.1,131 154.4,126.6 145.1,127ZM161.1,131 170.4,130.9 163.7,126.6 154.4,126.6ZM170.4,130.9 179.7,130.8 173,126.5 163.7,126.6Z" fill="#77AC30" fill-opacity="0.3" stroke="none"/><path d="M141.2,195.4 150.5,196 159.8,196.5 169.1,197 178.3,197.4 187.6,197.8 196.9,198.3 206.2,198.8 215.5,199 224.8,198.9 234.1,198.8 243.4,198.5 252.6,198.2 261.9,197.5 271.2,196.6 280.5,195.6M134.5,187.6 143.8,188.8 153.1,189.9 162.3,190.8 171.6,191.5 180.9,192.2 190.2,193 199.5,193.8 208.8,194.3 218.1,194.3 227.3,194.3 236.6,194 245.9,193.7 255.2,193.1 264.5,192.2 273.8,191.3M127.8,179.9 137,181.6 146.3,183.2 155.6,184.6 164.9,185.6 174.2,186.7 183.5,187.7 192.8,188.8 202,189.5 211.3,189.7 220.6,189.9 229.9,189.6 239.2,189.2 248.5,188.6 257.8,187.8 267.1,186.9M121,172.2 130.3,174.4 139.6,176.6 148.9,178.3 158.2,179.7 167.5,181.1 176.8,182.5 186,183.8 195.3,184.7 204.6,185.1 213.9,185.5 223.2,185.1 232.5,184.8 241.8,184.2 251,183.4 260.3,182.6M114.3,164.4 123.6,167.2 132.9,169.9 142.2,172.1 151.5,173.9 160.7,175.6 170,177.2 179.3,178.8 188.6,179.9 197.9,180.5 207.2,181.1 216.5,180.7 225.8,180.3 235,179.8 244.3,179 253.6,178.3M107.6,156.7 116.9,160 126.2,163.3 135.5,165.9 144.7,168 154,170 163.3,171.9 172.6,173.8 181.9,175.2 191.2,175.9 200.5,176.7 209.7,176.3 219,175.9 228.3,175.3 237.6,174.7 246.9,174M100.9,149 110.2,152.8 119.4,156.7 128.7,159.7 138,162.1 147.3,164.5 156.6,166.7 165.9,168.9 175.2,170.4 184.4,171.4 193.7,172.3 203,171.8 212.3,171.4 221.6,170.9 230.9,170.3 240.2,169.7M94.1,141.3 103.4,145.7 112.7,150 122,153.6 131.3,156.2 140.6,158.9 149.9,161.4 159.2,163.9 168.4,165.7 177.7,166.8 187,167.9 196.3,167.4 205.6,167 214.9,166.4 224.2,165.9 233.4,165.3M87.4,133.6 96.7,138.5 106,143.4 115.3,147.4 124.6,150.4 133.9,153.4 143.1,156.2 152.4,158.9 161.7,160.9 171,162.2 180.3,163.5 189.6,163 198.9,162.5 208.2,162 217.4,161.5 226.7,161M80.7,125.9 90,131.4 99.3,136.8 108.6,141.2 117.8,144.5 127.1,147.9 136.4,150.9 145.7,153.9 155,156.1 164.3,157.6 173.6,159.1 182.9,158.6 192.1,158.1 201.4,157.6 210.7,157.1 220,156.7M74,118.3 83.3,124.2 92.6,130.2 101.8,135 111.1,138.7 120.4,142.3 129.7,145.6 139,148.9 148.3,151.4 157.6,153 166.8,154.7 176.1,154.1 185.4,153.6 194.7,153.2 204,152.8 213.3,152.4M67.3,110.6 76.5,117.1 85.8,123.6 95.1,128.9 104.4,132.8 113.7,136.8 123,140.4 132.3,144 141.6,146.6 150.8,148.5 160.1,150.3 169.4,149.7 178.7,149.2 188,148.7 197.3,148.4 206.6,148.1M60.5,102.9 69.8,110 79.1,117 88.4,122.7 97.7,127 107,131.3 116.3,135.2 125.5,139 134.8,141.9 144.1,143.9 153.4,145.9 162.7,145.3 172,144.7 181.3,144.3 190.6,144 199.8,143.8M53.8,95.3 63.1,102.9 72.4,110.4 81.7,116.5 91,121.2 100.2,125.8 109.5,129.9 118.8,134 128.1,137.2 137.4,139.3 146.7,141.5 156,140.9 165.3,140.3 174.5,139.9 183.8,139.7 193.1,139.5M47.1,87.7 56.4,95.8 65.7,103.9 75,110.4 84.2,115.3 93.5,120.3 102.8,124.7 112.1,129.1 121.4,132.4 130.7,134.7 140,137.1 149.2,136.5 158.5,135.8 167.8,135.5 177.1,135.3 186.4,135.1M40.4,80 49.7,88.7 58.9,97.3 68.2,104.2 77.5,109.5 86.8,114.8 96.1,119.4 105.4,124.1 114.7,127.7 124,130.2 133.2,132.7 142.5,132 151.8,131.4 161.1,131 170.4,130.9 179.7,130.8M33.6,72.4 42.9,81.6 52.2,90.7 61.5,98.1 70.8,103.7 80.1,109.3 89.4,114.2 98.7,119.1 107.9,122.9 117.2,125.6 126.5,128.3 135.8,127.6 145.1,127 154.4,126.6 163.7,126.6 173,126.5M141.2,195.4 134.5,187.6 127.8,179.9 121,172.2 114.3,164.4 107.6,156.7 100.9,149 94.1,141.3 87.4,133.6 80.7,125.9 74,118.3 67.3,110.6 60.5,102.9 53.8,95.3 47.1,87.7 40.4,80 33.6,72.4M150.5,196 143.8,188.8 137,181.6 130.3,174.4 123.6,167.2 116.9,160 110.2,152.8 103.4,145.7 96.7,138.5 90,131.4 83.3,124.2 76.5,117.1 69.8,110 63.1,102.9 56.4,95.8 49.7,88.7 42.9,81.6M159.8,196.5 153.1,189.9 146.3,183.2 139.6,176.6 132.9,169.9 126.2,163.3 119.4,156.7 112.7,150 106,143.4 99.3,136.8 92.6,130.2 85.8,123.6 79.1,117 72.4,110.4 65.7,103.9 58.9,97.3 52.2,90.7M169.1,197 162.3,190.8 155.6,184.6 148.9,178.3 142.2,172.1 135.5,165.9 128.7,159.7 122,153.6 115.3,147.4 108.6,141.2 101.8,135 95.1,128.9 88.4,122.7 81.7,116.5 75,110.4 68.2,104.2 61.5,98.1M178.3,197.4 171.6,191.5 164.9,185.6 158.2,179.7 151.5,173.9 144.7,168 138,162.1 131.3,156.2 124.6,150.4 117.8,144.5 111.1,138.7 104.4,132.8 97.7,127 91,121.2 84.2,115.3 77.5,109.5 70.8,103.7M187.6,197.8 180.9,192.2 174.2,186.7 167.5,181.1 160.7,175.6 154,170 147.3,164.5 140.6,158.9 133.9,153.4 127.1,147.9 120.4,142.3 113.7,136.8 107,131.3 100.2,125.8 93.5,120.3 86.8,114.8 80.1,109.3M196.9,198.3 190.2,193 183.5,187.7 176.8,182.5 170,177.2 163.3,171.9 156.6,166.7 149.9,161.4 143.1,156.2 136.4,150.9 129.7,145.6 123,140.4 116.3,135.2 109.5,129.9 102.8,124.7 96.1,119.4 89.4,114.2M206.2,198.8 199.5,193.8 192.8,188.8 186,183.8 179.3,178.8 172.6,173.8 165.9,168.9 159.2,163.9 152.4,158.9 145.7,153.9 139,148.9 132.3,144 125.5,139 118.8,134 112.1,129.1 105.4,124.1 98.7,119.1M215.5,199 208.8,194.3 202,189.5 195.3,184.7 188.6,179.9 181.9,175.2 175.2,170.4 168.4,165.7 161.7,160.9 155,156.1 148.3,151.4 141.6,146.6 134.8,141.9 128.1,137.2 121.4,132.4 114.7,127.7 107.9,122.9M224.8,198.9 218.1,194.3 211.3,189.7 204.6,185.1 197.9,180.5 191.2,175.9 184.4,171.4 177.7,166.8 171,162.2 164.3,157.6 157.6,153 150.8,148.5 144.1,143.9 137.4,139.3 130.7,134.7 124,130.2 117.2,125.6M234.1,198.8 227.3,194.3 220.6,189.9 213.9,185.5 207.2,181.1 200.5,176.7 193.7,172.3 187,167.9 180.3,163.5 173.6,159.1 166.8,154.7 160.1,150.3 153.4,145.9 146.7,141.5 140,137.1 133.2,132.7 126.5,128.3M243.4,198.5 236.6,194 229.9,189.6 223.2,185.1 216.5,180.7 209.7,176.3 203,171.8 196.3,167.4 189.6,163 182.9,158.6 176.1,154.1 169.4,149.7 162.7,145.3 156,140.9 149.2,136.5 142.5,132 135.8,127.6M252.6,198.2 245.9,193.7 239.2,189.2 232.5,184.8 225.8,180.3 219,175.9 212.3,171.4 205.6,167 198.9,162.5 192.1,158.1 185.4,153.6 178.7,149.2 172,144.7 165.3,140.3 158.5,135.8 151.8,131.4 145.1,127M261.9,197.5 255.2,193.1 248.5,188.6 241.8,184.2 235,179.8 228.3,175.3 221.6,170.9 214.9,166.4 208.2,162 201.4,157.6 194.7,153.2 188,148.7 181.3,144.3 174.5,139.9 167.8,135.5 161.1,131 154.4,126.6M271.2,196.6 264.5,192.2 257.8,187.8 251,183.4 244.3,179 237.6,174.7 230.9,170.3 224.2,165.9 217.4,161.5 210.7,157.1 204,152.8 197.3,148.4 190.6,144 183.8,139.7 177.1,135.3 170.4,130.9 163.7,126.6M280.5,195.6 273.8,191.3 267.1,186.9 260.3,182.6 253.6,178.3 246.9,174 240.2,169.7 233.4,165.3 226.7,161 220,156.7 213.3,152.4 206.6,148.1 199.8,143.8 193.1,139.5 186.4,135.1 179.7,130.8 173,126.5" fill="none" stroke="#77AC30" stroke-width="0.55" stroke-linejoin="round"/><path d="M141.2,193.4 150.5,193.1 143.8,185.7 134.5,185.7ZM150.5,193.1 159.8,192.9 153.1,185.8 143.8,185.7ZM159.8,192.9 169.1,192.6 162.3,185.8 153.1,185.8ZM169.1,192.6 178.3,192.4 171.6,185.9 162.3,185.8ZM178.3,192.4 187.6,192.1 180.9,185.9 171.6,185.9ZM187.6,192.1 196.9,192.7 190.2,186.7 180.9,185.9ZM196.9,192.7 206.2,193.2 199.5,187.5 190.2,186.7ZM206.2,193.2 215.5,193.6 208.8,188.1 199.5,187.5ZM215.5,193.6 224.8,193.8 218.1,188.5 208.8,188.1ZM224.8,193.8 234.1,194 227.3,189 218.1,188.5ZM234.1,194 243.4,194 236.6,189.1 227.3,189ZM243.4,194 252.6,194 245.9,189.3 236.6,189.1ZM252.6,194 261.9,194 255.2,189.4 245.9,189.3ZM261.9,194 271.2,193.9 264.5,189.4 255.2,189.4ZM271.2,193.9 280.5,193.8 273.8,189.4 264.5,189.4ZM134.5,185.7 143.8,185.7 137,178.3 127.8,178ZM143.8,185.7 153.1,185.8 146.3,178.7 137,178.3ZM153.1,185.8 162.3,185.8 155.6,179 146.3,178.7ZM162.3,185.8 171.6,185.9 164.9,179.4 155.6,179ZM171.6,185.9 180.9,185.9 174.2,179.7 164.9,179.4ZM180.9,185.9 190.2,186.7 183.5,180.7 174.2,179.7ZM190.2,186.7 199.5,187.5 192.8,181.7 183.5,180.7ZM199.5,187.5 208.8,188.1 202,182.6 192.8,181.7ZM208.8,188.1 218.1,188.5 211.3,183.3 202,182.6ZM218.1,188.5 227.3,189 220.6,184 211.3,183.3ZM227.3,189 236.6,189.1 229.9,184.3 220.6,184ZM236.6,189.1 245.9,189.3 239.2,184.6 229.9,184.3ZM245.9,189.3 255.2,189.4 248.5,184.8 239.2,184.6ZM255.2,189.4 264.5,189.4 257.8,185 248.5,184.8ZM264.5,189.4 273.8,189.4 267.1,185.1 257.8,185ZM127.8,178 137,178.3 130.3,170.9 121,170.3ZM137,178.3 146.3,178.7 139.6,171.6 130.3,170.9ZM146.3,178.7 155.6,179 148.9,172.2 139.6,171.6ZM155.6,179 164.9,179.4 158.2,172.9 148.9,172.2ZM164.9,179.4 174.2,179.7 167.5,173.5 158.2,172.9ZM174.2,179.7 183.5,180.7 176.8,174.8 167.5,173.5ZM183.5,180.7 192.8,181.7 186,176 176.8,174.8ZM192.8,181.7 202,182.6 195.3,177.1 186,176ZM202,182.6 211.3,183.3 204.6,178.1 195.3,177.1ZM211.3,183.3 220.6,184 213.9,179.1 204.6,178.1ZM220.6,184 229.9,184.3 223.2,179.5 213.9,179.1ZM229.9,184.3 239.2,184.6 232.5,179.9 223.2,179.5ZM239.2,184.6 248.5,184.8 241.8,180.2 232.5,179.9ZM248.5,184.8 257.8,185 251,180.5 241.8,180.2ZM257.8,185 267.1,185.1 260.3,180.8 251,180.5ZM121,170.3 130.3,170.9 123.6,163.5 114.3,162.6ZM130.3,170.9 139.6,171.6 132.9,164.5 123.6,163.5ZM139.6,171.6 148.9,172.2 142.2,165.4 132.9,164.5ZM148.9,172.2 158.2,172.9 151.5,166.4 142.2,165.4ZM158.2,172.9 167.5,173.5 160.7,167.3 151.5,166.4ZM167.5,173.5 176.8,174.8 170,168.8 160.7,167.3ZM176.8,174.8 186,176 179.3,170.3 170,168.8ZM186,176 195.3,177.1 188.6,171.7 179.3,170.3ZM195.3,177.1 204.6,178.1 197.9,172.9 188.6,171.7ZM204.6,178.1 213.9,179.1 207.2,174.1 197.9,172.9ZM213.9,179.1 223.2,179.5 216.5,174.7 207.2,174.1ZM223.2,179.5 232.5,179.9 225.8,175.2 216.5,174.7ZM232.5,179.9 241.8,180.2 235,175.7 225.8,175.2ZM241.8,180.2 251,180.5 244.3,176.1 235,175.7ZM251,180.5 260.3,180.8 253.6,176.5 244.3,176.1ZM114.3,162.6 123.6,163.5 116.9,156.1 107.6,154.9ZM123.6,163.5 132.9,164.5 126.2,157.4 116.9,156.1ZM132.9,164.5 142.2,165.4 135.5,158.6 126.2,157.4ZM142.2,165.4 151.5,166.4 144.7,159.9 135.5,158.6ZM151.5,166.4 160.7,167.3 154,161.1 144.7,159.9ZM160.7,167.3 170,168.8 163.3,162.9 154,161.1ZM170,168.8 179.3,170.3 172.6,164.6 163.3,162.9ZM179.3,170.3 188.6,171.7 181.9,166.2 172.6,164.6ZM188.6,171.7 197.9,172.9 191.2,167.7 181.9,166.2ZM197.9,172.9 207.2,174.1 200.5,169.2 191.2,167.7ZM207.2,174.1 216.5,174.7 209.7,169.8 200.5,169.2ZM216.5,174.7 225.8,175.2 219,170.5 209.7,169.8ZM225.8,175.2 235,175.7 228.3,171.1 219,170.5ZM235,175.7 244.3,176.1 237.6,171.7 228.3,171.1ZM244.3,176.1 253.6,176.5 246.9,172.2 237.6,171.7ZM107.6,154.9 116.9,156.1 110.2,148.7 100.9,147.2ZM116.9,156.1 126.2,157.4 119.4,150.3 110.2,148.7ZM126.2,157.4 135.5,158.6 128.7,151.9 119.4,150.3ZM135.5,158.6 144.7,159.9 138,153.4 128.7,151.9ZM144.7,159.9 154,161.1 147.3,154.9 138,153.4ZM154,161.1 163.3,162.9 156.6,156.9 147.3,154.9ZM163.3,162.9 172.6,164.6 165.9,158.9 156.6,156.9ZM172.6,164.6 181.9,166.2 175.2,160.7 165.9,158.9ZM181.9,166.2 191.2,167.7 184.4,162.5 175.2,160.7ZM191.2,167.7 200.5,169.2 193.7,164.2 184.4,162.5ZM200.5,169.2 209.7,169.8 203,165 193.7,164.2ZM209.7,169.8 219,170.5 212.3,165.8 203,165ZM219,170.5 228.3,171.1 221.6,166.5 212.3,165.8ZM228.3,171.1 237.6,171.7 230.9,167.2 221.6,166.5ZM237.6,171.7 246.9,172.2 240.2,167.9 230.9,167.2ZM100.9,147.2 110.2,148.7 103.4,141.4 94.1,139.5ZM110.2,148.7 119.4,150.3 112.7,143.2 103.4,141.4ZM119.4,150.3 128.7,151.9 122,145.1 112.7,143.2ZM128.7,151.9 138,153.4 131.3,146.9 122,145.1ZM138,153.4 147.3,154.9 140.6,148.8 131.3,146.9ZM147.3,154.9 156.6,156.9 149.9,151 140.6,148.8ZM156.6,156.9 165.9,158.9 159.2,153.2 149.9,151ZM165.9,158.9 175.2,160.7 168.4,155.3 159.2,153.2ZM175.2,160.7 184.4,162.5 177.7,157.3 168.4,155.3ZM184.4,162.5 193.7,164.2 187,159.3 177.7,157.3ZM193.7,164.2 203,165 196.3,160.2 187,159.3ZM203,165 212.3,165.8 205.6,161.1 196.3,160.2ZM212.3,165.8 221.6,166.5 214.9,162 205.6,161.1ZM221.6,166.5 230.9,167.2 224.2,162.8 214.9,162ZM230.9,167.2 240.2,167.9 233.4,163.7 224.2,162.8ZM94.1,139.5 103.4,141.4 96.7,134 87.4,131.8ZM103.4,141.4 112.7,143.2 106,136.2 96.7,134ZM112.7,143.2 122,145.1 115.3,138.3 106,136.2ZM122,145.1 131.3,146.9 124.6,140.5 115.3,138.3ZM131.3,146.9 140.6,148.8 133.9,142.6 124.6,140.5ZM140.6,148.8 149.9,151 143.1,145.1 133.9,142.6ZM149.9,151 159.2,153.2 152.4,147.5 143.1,145.1ZM159.2,153.2 168.4,155.3 161.7,149.9 152.4,147.5ZM168.4,155.3 177.7,157.3 171,152.1 161.7,149.9ZM177.7,157.3 187,159.3 180.3,154.3 171,152.1ZM187,159.3 196.3,160.2 189.6,155.4 180.3,154.3ZM196.3,160.2 205.6,161.1 198.9,156.4 189.6,155.4ZM205.6,161.1 214.9,162 208.2,157.5 198.9,156.4ZM214.9,162 224.2,162.8 217.4,158.5 208.2,157.5ZM224.2,162.8 233.4,163.7 226.7,159.4 217.4,158.5ZM87.4,131.8 96.7,134 90,126.6 80.7,124.1ZM96.7,134 106,136.2 99.3,129.1 90,126.6ZM106,136.2 115.3,138.3 108.6,131.6 99.3,129.1ZM115.3,138.3 124.6,140.5 117.8,134 108.6,131.6ZM124.6,140.5 133.9,142.6 127.1,136.5 117.8,134ZM133.9,142.6 143.1,145.1 136.4,139.2 127.1,136.5ZM143.1,145.1 152.4,147.5 145.7,141.8 136.4,139.2ZM152.4,147.5 161.7,149.9 155,144.4 145.7,141.8ZM161.7,149.9 171,152.1 164.3,146.9 155,144.4ZM171,152.1 180.3,154.3 173.6,149.4 164.3,146.9ZM180.3,154.3 189.6,155.4 182.9,150.6 173.6,149.4ZM189.6,155.4 198.9,156.4 192.1,151.8 182.9,150.6ZM198.9,156.4 208.2,157.5 201.4,152.9 192.1,151.8ZM208.2,157.5 217.4,158.5 210.7,154.1 201.4,152.9ZM217.4,158.5 226.7,159.4 220,155.3 210.7,154.1ZM80.7,124.1 90,126.6 83.3,119.3 74,116.5ZM90,126.6 99.3,129.1 92.6,122.1 83.3,119.3ZM99.3,129.1 108.6,131.6 101.8,124.8 92.6,122.1ZM108.6,131.6 117.8,134 111.1,127.6 101.8,124.8ZM117.8,134 127.1,136.5 120.4,130.3 111.1,127.6ZM127.1,136.5 136.4,139.2 129.7,133.2 120.4,130.3ZM136.4,139.2 145.7,141.8 139,136.2 129.7,133.2ZM145.7,141.8 155,144.4 148.3,139 139,136.2ZM155,144.4 164.3,146.9 157.6,141.7 148.3,139ZM164.3,146.9 173.6,149.4 166.8,144.5 157.6,141.7ZM173.6,149.4 182.9,150.6 176.1,145.8 166.8,144.5ZM182.9,150.6 192.1,151.8 185.4,147.1 176.1,145.8ZM192.1,151.8 201.4,152.9 194.7,148.4 185.4,147.1ZM201.4,152.9 210.7,154.1 204,149.8 194.7,148.4ZM210.7,154.1 220,155.3 213.3,151.2 204,149.8ZM74,116.5 83.3,119.3 76.5,111.9 67.3,108.8ZM83.3,119.3 92.6,122.1 85.8,115 76.5,111.9ZM92.6,122.1 101.8,124.8 95.1,118.1 85.8,115ZM101.8,124.8 111.1,127.6 104.4,121.1 95.1,118.1ZM111.1,127.6 120.4,130.3 113.7,124.2 104.4,121.1ZM120.4,130.3 129.7,133.2 123,127.3 113.7,124.2ZM129.7,133.2 139,136.2 132.3,130.5 123,127.3ZM139,136.2 148.3,139 141.6,133.5 132.3,130.5ZM148.3,139 157.6,141.7 150.8,136.5 141.6,133.5ZM157.6,141.7 166.8,144.5 160.1,139.5 150.8,136.5ZM166.8,144.5 176.1,145.8 169.4,141 160.1,139.5ZM176.1,145.8 185.4,147.1 178.7,142.4 169.4,141ZM185.4,147.1 194.7,148.4 188,143.9 178.7,142.4ZM194.7,148.4 204,149.8 197.3,145.5 188,143.9ZM204,149.8 213.3,151.2 206.6,147.1 197.3,145.5ZM67.3,108.8 76.5,111.9 69.8,104.6 60.5,101.2ZM76.5,111.9 85.8,115 79.1,108 69.8,104.6ZM85.8,115 95.1,118.1 88.4,111.3 79.1,108ZM95.1,118.1 104.4,121.1 97.7,114.7 88.4,111.3ZM104.4,121.1 113.7,124.2 107,118 97.7,114.7ZM113.7,124.2 123,127.3 116.3,121.4 107,118ZM123,127.3 132.3,130.5 125.5,124.8 116.3,121.4ZM132.3,130.5 141.6,133.5 134.8,128.1 125.5,124.8ZM141.6,133.5 150.8,136.5 144.1,131.4 134.8,128.1ZM150.8,136.5 160.1,139.5 153.4,134.6 144.1,131.4ZM160.1,139.5 169.4,141 162.7,136.1 153.4,134.6ZM169.4,141 178.7,142.4 172,137.7 162.7,136.1ZM178.7,142.4 188,143.9 181.3,139.4 172,137.7ZM188,143.9 197.3,145.5 190.6,141.2 181.3,139.4ZM197.3,145.5 206.6,147.1 199.8,142.9 190.6,141.2ZM60.5,101.2 69.8,104.6 63.1,97.3 53.8,93.6ZM69.8,104.6 79.1,108 72.4,101 63.1,97.3ZM79.1,108 88.4,111.3 81.7,104.6 72.4,101ZM88.4,111.3 97.7,114.7 91,108.3 81.7,104.6ZM97.7,114.7 107,118 100.2,111.9 91,108.3ZM107,118 116.3,121.4 109.5,115.5 100.2,111.9ZM116.3,121.4 125.5,124.8 118.8,119.1 109.5,115.5ZM125.5,124.8 134.8,128.1 128.1,122.7 118.8,119.1ZM134.8,128.1 144.1,131.4 137.4,126.2 128.1,122.7ZM144.1,131.4 153.4,134.6 146.7,129.7 137.4,126.2ZM153.4,134.6 162.7,136.1 156,131.3 146.7,129.7ZM162.7,136.1 172,137.7 165.3,133 156,131.3ZM172,137.7 181.3,139.4 174.5,134.8 165.3,133ZM181.3,139.4 190.6,141.2 183.8,136.7 174.5,134.8ZM190.6,141.2 199.8,142.9 193.1,138.6 183.8,136.7ZM53.8,93.6 63.1,97.3 56.4,90 47.1,86ZM63.1,97.3 72.4,101 65.7,93.9 56.4,90ZM72.4,101 81.7,104.6 75,97.9 65.7,93.9ZM81.7,104.6 91,108.3 84.2,101.8 75,97.9ZM91,108.3 100.2,111.9 93.5,105.7 84.2,101.8ZM100.2,111.9 109.5,115.5 102.8,109.6 93.5,105.7ZM109.5,115.5 118.8,119.1 112.1,113.4 102.8,109.6ZM118.8,119.1 128.1,122.7 121.4,117.2 112.1,113.4ZM128.1,122.7 137.4,126.2 130.7,121 121.4,117.2ZM137.4,126.2 146.7,129.7 140,124.7 130.7,121ZM146.7,129.7 156,131.3 149.2,126.5 140,124.7ZM156,131.3 165.3,133 158.5,128.3 149.2,126.5ZM165.3,133 174.5,134.8 167.8,130.2 158.5,128.3ZM174.5,134.8 183.8,136.7 177.1,132.1 167.8,130.2ZM183.8,136.7 193.1,138.6 186.4,134 177.1,132.1ZM47.1,86 56.4,90 49.7,82.7 40.4,78.4ZM56.4,90 65.7,93.9 58.9,86.9 49.7,82.7ZM65.7,93.9 75,97.9 68.2,91.2 58.9,86.9ZM75,97.9 84.2,101.8 77.5,95.4 68.2,91.2ZM84.2,101.8 93.5,105.7 86.8,99.6 77.5,95.4ZM93.5,105.7 102.8,109.6 96.1,103.7 86.8,99.6ZM102.8,109.6 112.1,113.4 105.4,107.8 96.1,103.7ZM112.1,113.4 121.4,117.2 114.7,111.8 105.4,107.8ZM121.4,117.2 130.7,121 124,115.8 114.7,111.8ZM130.7,121 140,124.7 133.2,119.8 124,115.8ZM140,124.7 149.2,126.5 142.5,121.7 133.2,119.8ZM149.2,126.5 158.5,128.3 151.8,123.6 142.5,121.7ZM158.5,128.3 167.8,130.2 161.1,125.5 151.8,123.6ZM167.8,130.2 177.1,132.1 170.4,127.4 161.1,125.5ZM177.1,132.1 186.4,134 179.7,129.3 170.4,127.4ZM40.4,78.4 49.7,82.7 42.9,75.4 33.6,70.8ZM49.7,82.7 58.9,86.9 52.2,79.9 42.9,75.4ZM58.9,86.9 68.2,91.2 61.5,84.5 52.2,79.9ZM68.2,91.2 77.5,95.4 70.8,89 61.5,84.5ZM77.5,95.4 86.8,99.6 80.1,93.5 70.8,89ZM86.8,99.6 96.1,103.7 89.4,97.8 80.1,93.5ZM96.1,103.7 105.4,107.8 98.7,102.1 89.4,97.8ZM105.4,107.8 114.7,111.8 107.9,106.4 98.7,102.1ZM114.7,111.8 124,115.8 117.2,110.6 107.9,106.4ZM124,115.8 133.2,119.8 126.5,114.9 117.2,110.6ZM133.2,119.8 142.5,121.7 135.8,116.9 126.5,114.9ZM142.5,121.7 151.8,123.6 145.1,119 135.8,116.9ZM151.8,123.6 161.1,125.5 154.4,120.9 145.1,119ZM161.1,125.5 170.4,127.4 163.7,122.6 154.4,120.9ZM170.4,127.4 179.7,129.3 173,124.4 163.7,122.6Z" fill="#D95319" fill-opacity="0.3" stroke="none"/><path d="M141.2,193.4 150.5,193.1 159.8,192.9 169.1,192.6 178.3,192.4 187.6,192.1 196.9,192.7 206.2,193.2 215.5,193.6 224.8,193.8 234.1,194 243.4,194 252.6,194 261.9,194 271.2,193.9 280.5,193.8M134.5,185.7 143.8,185.7 153.1,185.8 162.3,185.8 171.6,185.9 180.9,185.9 190.2,186.7 199.5,187.5 208.8,188.1 218.1,188.5 227.3,189 236.6,189.1 245.9,189.3 255.2,189.4 264.5,189.4 273.8,189.4M127.8,178 137,178.3 146.3,178.7 155.6,179 164.9,179.4 174.2,179.7 183.5,180.7 192.8,181.7 202,182.6 211.3,183.3 220.6,184 229.9,184.3 239.2,184.6 248.5,184.8 257.8,185 267.1,185.1M121,170.3 130.3,170.9 139.6,171.6 148.9,172.2 158.2,172.9 167.5,173.5 176.8,174.8 186,176 195.3,177.1 204.6,178.1 213.9,179.1 223.2,179.5 232.5,179.9 241.8,180.2 251,180.5 260.3,180.8M114.3,162.6 123.6,163.5 132.9,164.5 142.2,165.4 151.5,166.4 160.7,167.3 170,168.8 179.3,170.3 188.6,171.7 197.9,172.9 207.2,174.1 216.5,174.7 225.8,175.2 235,175.7 244.3,176.1 253.6,176.5M107.6,154.9 116.9,156.1 126.2,157.4 135.5,158.6 144.7,159.9 154,161.1 163.3,162.9 172.6,164.6 181.9,166.2 191.2,167.7 200.5,169.2 209.7,169.8 219,170.5 228.3,171.1 237.6,171.7 246.9,172.2M100.9,147.2 110.2,148.7 119.4,150.3 128.7,151.9 138,153.4 147.3,154.9 156.6,156.9 165.9,158.9 175.2,160.7 184.4,162.5 193.7,164.2 203,165 212.3,165.8 221.6,166.5 230.9,167.2 240.2,167.9M94.1,139.5 103.4,141.4 112.7,143.2 122,145.1 131.3,146.9 140.6,148.8 149.9,151 159.2,153.2 168.4,155.3 177.7,157.3 187,159.3 196.3,160.2 205.6,161.1 214.9,162 224.2,162.8 233.4,163.7M87.4,131.8 96.7,134 106,136.2 115.3,138.3 124.6,140.5 133.9,142.6 143.1,145.1 152.4,147.5 161.7,149.9 171,152.1 180.3,154.3 189.6,155.4 198.9,156.4 208.2,157.5 217.4,158.5 226.7,159.4M80.7,124.1 90,126.6 99.3,129.1 108.6,131.6 117.8,134 127.1,136.5 136.4,139.2 145.7,141.8 155,144.4 164.3,146.9 173.6,149.4 182.9,150.6 192.1,151.8 201.4,152.9 210.7,154.1 220,155.3M74,116.5 83.3,119.3 92.6,122.1 101.8,124.8 111.1,127.6 120.4,130.3 129.7,133.2 139,136.2 148.3,139 157.6,141.7 166.8,144.5 176.1,145.8 185.4,147.1 194.7,148.4 204,149.8 213.3,151.2M67.3,108.8 76.5,111.9 85.8,115 95.1,118.1 104.4,121.1 113.7,124.2 123,127.3 132.3,130.5 141.6,133.5 150.8,136.5 160.1,139.5 169.4,141 178.7,142.4 188,143.9 197.3,145.5 206.6,147.1M60.5,101.2 69.8,104.6 79.1,108 88.4,111.3 97.7,114.7 107,118 116.3,121.4 125.5,124.8 134.8,128.1 144.1,131.4 153.4,134.6 162.7,136.1 172,137.7 181.3,139.4 190.6,141.2 199.8,142.9M53.8,93.6 63.1,97.3 72.4,101 81.7,104.6 91,108.3 100.2,111.9 109.5,115.5 118.8,119.1 128.1,122.7 137.4,126.2 146.7,129.7 156,131.3 165.3,133 174.5,134.8 183.8,136.7 193.1,138.6M47.1,86 56.4,90 65.7,93.9 75,97.9 84.2,101.8 93.5,105.7 102.8,109.6 112.1,113.4 121.4,117.2 130.7,121 140,124.7 149.2,126.5 158.5,128.3 167.8,130.2 177.1,132.1 186.4,134M40.4,78.4 49.7,82.7 58.9,86.9 68.2,91.2 77.5,95.4 86.8,99.6 96.1,103.7 105.4,107.8 114.7,111.8 124,115.8 133.2,119.8 142.5,121.7 151.8,123.6 161.1,125.5 170.4,127.4 179.7,129.3M33.6,70.8 42.9,75.4 52.2,79.9 61.5,84.5 70.8,89 80.1,93.5 89.4,97.8 98.7,102.1 107.9,106.4 117.2,110.6 126.5,114.9 135.8,116.9 145.1,119 154.4,120.9 163.7,122.6 173,124.4M141.2,193.4 134.5,185.7 127.8,178 121,170.3 114.3,162.6 107.6,154.9 100.9,147.2 94.1,139.5 87.4,131.8 80.7,124.1 74,116.5 67.3,108.8 60.5,101.2 53.8,93.6 47.1,86 40.4,78.4 33.6,70.8M150.5,193.1 143.8,185.7 137,178.3 130.3,170.9 123.6,163.5 116.9,156.1 110.2,148.7 103.4,141.4 96.7,134 90,126.6 83.3,119.3 76.5,111.9 69.8,104.6 63.1,97.3 56.4,90 49.7,82.7 42.9,75.4M159.8,192.9 153.1,185.8 146.3,178.7 139.6,171.6 132.9,164.5 126.2,157.4 119.4,150.3 112.7,143.2 106,136.2 99.3,129.1 92.6,122.1 85.8,115 79.1,108 72.4,101 65.7,93.9 58.9,86.9 52.2,79.9M169.1,192.6 162.3,185.8 155.6,179 148.9,172.2 142.2,165.4 135.5,158.6 128.7,151.9 122,145.1 115.3,138.3 108.6,131.6 101.8,124.8 95.1,118.1 88.4,111.3 81.7,104.6 75,97.9 68.2,91.2 61.5,84.5M178.3,192.4 171.6,185.9 164.9,179.4 158.2,172.9 151.5,166.4 144.7,159.9 138,153.4 131.3,146.9 124.6,140.5 117.8,134 111.1,127.6 104.4,121.1 97.7,114.7 91,108.3 84.2,101.8 77.5,95.4 70.8,89M187.6,192.1 180.9,185.9 174.2,179.7 167.5,173.5 160.7,167.3 154,161.1 147.3,154.9 140.6,148.8 133.9,142.6 127.1,136.5 120.4,130.3 113.7,124.2 107,118 100.2,111.9 93.5,105.7 86.8,99.6 80.1,93.5M196.9,192.7 190.2,186.7 183.5,180.7 176.8,174.8 170,168.8 163.3,162.9 156.6,156.9 149.9,151 143.1,145.1 136.4,139.2 129.7,133.2 123,127.3 116.3,121.4 109.5,115.5 102.8,109.6 96.1,103.7 89.4,97.8M206.2,193.2 199.5,187.5 192.8,181.7 186,176 179.3,170.3 172.6,164.6 165.9,158.9 159.2,153.2 152.4,147.5 145.7,141.8 139,136.2 132.3,130.5 125.5,124.8 118.8,119.1 112.1,113.4 105.4,107.8 98.7,102.1M215.5,193.6 208.8,188.1 202,182.6 195.3,177.1 188.6,171.7 181.9,166.2 175.2,160.7 168.4,155.3 161.7,149.9 155,144.4 148.3,139 141.6,133.5 134.8,128.1 128.1,122.7 121.4,117.2 114.7,111.8 107.9,106.4M224.8,193.8 218.1,188.5 211.3,183.3 204.6,178.1 197.9,172.9 191.2,167.7 184.4,162.5 177.7,157.3 171,152.1 164.3,146.9 157.6,141.7 150.8,136.5 144.1,131.4 137.4,126.2 130.7,121 124,115.8 117.2,110.6M234.1,194 227.3,189 220.6,184 213.9,179.1 207.2,174.1 200.5,169.2 193.7,164.2 187,159.3 180.3,154.3 173.6,149.4 166.8,144.5 160.1,139.5 153.4,134.6 146.7,129.7 140,124.7 133.2,119.8 126.5,114.9M243.4,194 236.6,189.1 229.9,184.3 223.2,179.5 216.5,174.7 209.7,169.8 203,165 196.3,160.2 189.6,155.4 182.9,150.6 176.1,145.8 169.4,141 162.7,136.1 156,131.3 149.2,126.5 142.5,121.7 135.8,116.9M252.6,194 245.9,189.3 239.2,184.6 232.5,179.9 225.8,175.2 219,170.5 212.3,165.8 205.6,161.1 198.9,156.4 192.1,151.8 185.4,147.1 178.7,142.4 172,137.7 165.3,133 158.5,128.3 151.8,123.6 145.1,119M261.9,194 255.2,189.4 248.5,184.8 241.8,180.2 235,175.7 228.3,171.1 221.6,166.5 214.9,162 208.2,157.5 201.4,152.9 194.7,148.4 188,143.9 181.3,139.4 174.5,134.8 167.8,130.2 161.1,125.5 154.4,120.9M271.2,193.9 264.5,189.4 257.8,185 251,180.5 244.3,176.1 237.6,171.7 230.9,167.2 224.2,162.8 217.4,158.5 210.7,154.1 204,149.8 197.3,145.5 190.6,141.2 183.8,136.7 177.1,132.1 170.4,127.4 163.7,122.6M280.5,193.8 273.8,189.4 267.1,185.1 260.3,180.8 253.6,176.5 246.9,172.2 240.2,167.9 233.4,163.7 226.7,159.4 220,155.3 213.3,151.2 206.6,147.1 199.8,142.9 193.1,138.6 186.4,134 179.7,129.3 173,124.4" fill="none" stroke="#D95319" stroke-width="0.55" stroke-linejoin="round"/><line x1="33.6" y1="182.2" x2="33.6" y2="54.9" stroke="#a4a4a4" stroke-width="0.8"/><line x1="33.6" y1="182.2" x2="141.2" y2="241.1" stroke="#a4a4a4" stroke-width="0.8"/><line x1="141.2" y1="241.1" x2="280.5" y2="195.6" stroke="#a4a4a4" stroke-width="0.8"/><line x1="33.6" y1="182.2" x2="30.4" y2="183.3" stroke="#a4a4a4" stroke-width="0.8"/><line x1="33.6" y1="166.3" x2="30.4" y2="167.3" stroke="#a4a4a4" stroke-width="0.8"/><line x1="33.6" y1="150.4" x2="30.4" y2="151.4" stroke="#a4a4a4" stroke-width="0.8"/><line x1="33.6" y1="134.5" x2="30.4" y2="135.5" stroke="#a4a4a4" stroke-width="0.8"/><line x1="33.6" y1="118.5" x2="30.4" y2="119.6" stroke="#a4a4a4" stroke-width="0.8"/><line x1="33.6" y1="102.6" x2="30.4" y2="103.7" stroke="#a4a4a4" stroke-width="0.8"/><line x1="33.6" y1="86.7" x2="30.4" y2="87.7" stroke="#a4a4a4" stroke-width="0.8"/><line x1="33.6" y1="70.8" x2="30.4" y2="71.8" stroke="#a4a4a4" stroke-width="0.8"/><line x1="33.6" y1="54.9" x2="30.4" y2="55.9" stroke="#a4a4a4" stroke-width="0.8"/><line x1="141.2" y1="241.1" x2="137.9" y2="242.2" stroke="#a4a4a4" stroke-width="0.8"/><line x1="114.3" y1="226.4" x2="111.1" y2="227.4" stroke="#a4a4a4" stroke-width="0.8"/><line x1="87.4" y1="211.6" x2="84.2" y2="212.7" stroke="#a4a4a4" stroke-width="0.8"/><line x1="60.5" y1="196.9" x2="57.3" y2="198" stroke="#a4a4a4" stroke-width="0.8"/><line x1="33.6" y1="182.2" x2="30.4" y2="183.3" stroke="#a4a4a4" stroke-width="0.8"/><line x1="141.2" y1="241.1" x2="144.4" y2="242.9" stroke="#a4a4a4" stroke-width="0.8"/><line x1="164.4" y1="233.5" x2="167.6" y2="235.3" stroke="#a4a4a4" stroke-width="0.8"/><line x1="187.6" y1="225.9" x2="190.9" y2="227.7" stroke="#a4a4a4" stroke-width="0.8"/><line x1="210.8" y1="218.3" x2="214.1" y2="220.1" stroke="#a4a4a4" stroke-width="0.8"/><line x1="234.1" y1="210.8" x2="237.3" y2="212.5" stroke="#a4a4a4" stroke-width="0.8"/><line x1="257.3" y1="203.2" x2="260.5" y2="205" stroke="#a4a4a4" stroke-width="0.8"/><line x1="280.5" y1="195.6" x2="283.7" y2="197.4" stroke="#a4a4a4" stroke-width="0.8"/><text x="29" y="183.7" font-size="8.9" font-weight="bold" text-anchor="end" >0</text><text x="29" y="167.8" font-size="8.9" font-weight="bold" text-anchor="end" >200</text><text x="29" y="151.9" font-size="8.9" font-weight="bold" text-anchor="end" >400</text><text x="29" y="136" font-size="8.9" font-weight="bold" text-anchor="end" >600</text><text x="29" y="120" font-size="8.9" font-weight="bold" text-anchor="end" >800</text><text x="29" y="104.1" font-size="8.9" font-weight="bold" text-anchor="end" >1000</text><text x="29" y="88.2" font-size="8.9" font-weight="bold" text-anchor="end" >1200</text><text x="29" y="72.3" font-size="8.9" font-weight="bold" text-anchor="end" >1400</text><text x="29" y="56.4" font-size="8.9" font-weight="bold" text-anchor="end" >1600</text><text x="28.2" y="193.2" font-size="8.9" font-weight="bold" text-anchor="end" >0.7</text><text x="55.1" y="207.9" font-size="8.9" font-weight="bold" text-anchor="end" >0.6</text><text x="82" y="222.6" font-size="8.9" font-weight="bold" text-anchor="end" >0.5</text><text x="108.9" y="237.4" font-size="8.9" font-weight="bold" text-anchor="end" >0.4</text><text x="135.8" y="252.1" font-size="8.9" font-weight="bold" text-anchor="end" >0.3</text><text x="146.5" y="252.8" font-size="8.9" font-weight="bold" text-anchor="start" >100</text><text x="169.7" y="245.2" font-size="8.9" font-weight="bold" text-anchor="start" >150</text><text x="192.9" y="237.6" font-size="8.9" font-weight="bold" text-anchor="start" >200</text><text x="216.2" y="230" font-size="8.9" font-weight="bold" text-anchor="start" >250</text><text x="239.4" y="222.5" font-size="8.9" font-weight="bold" text-anchor="start" >300</text><text x="262.6" y="214.9" font-size="8.9" font-weight="bold" text-anchor="start" >350</text><text x="285.8" y="207.3" font-size="8.9" font-weight="bold" text-anchor="start" >400</text><line x1="375.3" y1="182.2" x2="375.3" y2="54.9" stroke="#efefef" stroke-width="0.7"/><line x1="398.1" y1="174.5" x2="398.1" y2="47.6" stroke="#efefef" stroke-width="0.7"/><line x1="420.8" y1="166.9" x2="420.8" y2="40.3" stroke="#efefef" stroke-width="0.7"/><line x1="443.6" y1="159.2" x2="443.6" y2="33" stroke="#efefef" stroke-width="0.7"/><line x1="466.3" y1="151.5" x2="466.3" y2="25.7" stroke="#efefef" stroke-width="0.7"/><line x1="489.1" y1="143.9" x2="489.1" y2="18.4" stroke="#efefef" stroke-width="0.7"/><line x1="511.8" y1="136.2" x2="511.8" y2="11.1" stroke="#efefef" stroke-width="0.7"/><line x1="375.3" y1="182.2" x2="511.8" y2="136.2" stroke="#efefef" stroke-width="0.7"/><line x1="375.3" y1="166.3" x2="511.8" y2="120.6" stroke="#efefef" stroke-width="0.7"/><line x1="375.3" y1="150.4" x2="511.8" y2="104.9" stroke="#efefef" stroke-width="0.7"/><line x1="375.3" y1="134.5" x2="511.8" y2="89.3" stroke="#efefef" stroke-width="0.7"/><line x1="375.3" y1="118.5" x2="511.8" y2="73.6" stroke="#efefef" stroke-width="0.7"/><line x1="375.3" y1="102.6" x2="511.8" y2="58" stroke="#efefef" stroke-width="0.7"/><line x1="375.3" y1="86.7" x2="511.8" y2="42.3" stroke="#efefef" stroke-width="0.7"/><line x1="375.3" y1="70.8" x2="511.8" y2="26.7" stroke="#efefef" stroke-width="0.7"/><line x1="375.3" y1="54.9" x2="511.8" y2="11.1" stroke="#efefef" stroke-width="0.7"/><line x1="616.8" y1="195.1" x2="616.8" y2="67.8" stroke="#efefef" stroke-width="0.7"/><line x1="590.5" y1="180.4" x2="590.5" y2="53.6" stroke="#efefef" stroke-width="0.7"/><line x1="564.3" y1="165.6" x2="564.3" y2="39.4" stroke="#efefef" stroke-width="0.7"/><line x1="538" y1="150.9" x2="538" y2="25.2" stroke="#efefef" stroke-width="0.7"/><line x1="511.8" y1="136.2" x2="511.8" y2="11.1" stroke="#efefef" stroke-width="0.7"/><line x1="511.8" y1="136.2" x2="616.8" y2="195.1" stroke="#efefef" stroke-width="0.7"/><line x1="511.8" y1="120.6" x2="616.8" y2="179.2" stroke="#efefef" stroke-width="0.7"/><line x1="511.8" y1="104.9" x2="616.8" y2="163.3" stroke="#efefef" stroke-width="0.7"/><line x1="511.8" y1="89.3" x2="616.8" y2="147.4" stroke="#efefef" stroke-width="0.7"/><line x1="511.8" y1="73.6" x2="616.8" y2="131.4" stroke="#efefef" stroke-width="0.7"/><line x1="511.8" y1="58" x2="616.8" y2="115.5" stroke="#efefef" stroke-width="0.7"/><line x1="511.8" y1="42.3" x2="616.8" y2="99.6" stroke="#efefef" stroke-width="0.7"/><line x1="511.8" y1="26.7" x2="616.8" y2="83.7" stroke="#efefef" stroke-width="0.7"/><line x1="511.8" y1="11.1" x2="616.8" y2="67.8" stroke="#efefef" stroke-width="0.7"/><line x1="375.3" y1="182.2" x2="480.3" y2="241.1" stroke="#efefef" stroke-width="0.7"/><line x1="398.1" y1="174.5" x2="503.1" y2="233.4" stroke="#efefef" stroke-width="0.7"/><line x1="420.8" y1="166.9" x2="525.8" y2="225.8" stroke="#efefef" stroke-width="0.7"/><line x1="443.6" y1="159.2" x2="548.5" y2="218.1" stroke="#efefef" stroke-width="0.7"/><line x1="466.3" y1="151.5" x2="571.3" y2="210.4" stroke="#efefef" stroke-width="0.7"/><line x1="489.1" y1="143.9" x2="594" y2="202.8" stroke="#efefef" stroke-width="0.7"/><line x1="511.8" y1="136.2" x2="616.8" y2="195.1" stroke="#efefef" stroke-width="0.7"/><line x1="480.3" y1="241.1" x2="616.8" y2="195.1" stroke="#efefef" stroke-width="0.7"/><line x1="454" y1="226.4" x2="590.5" y2="180.4" stroke="#efefef" stroke-width="0.7"/><line x1="427.8" y1="211.6" x2="564.3" y2="165.6" stroke="#efefef" stroke-width="0.7"/><line x1="401.6" y1="196.9" x2="538" y2="150.9" stroke="#efefef" stroke-width="0.7"/><line x1="375.3" y1="182.2" x2="511.8" y2="136.2" stroke="#efefef" stroke-width="0.7"/><path d="M480.3,193.4 489.4,193.1 482.8,185.7 473.7,185.7ZM489.4,193.1 498.5,192.8 491.9,185.7 482.8,185.7ZM498.5,192.8 507.6,192.5 501,185.7 491.9,185.7ZM507.6,192.5 516.7,192.3 510.1,185.7 501,185.7ZM516.7,192.3 525.8,192 519.2,185.7 510.1,185.7ZM525.8,192 534.9,192.5 528.3,186.5 519.2,185.7ZM534.9,192.5 544,193 537.4,187.2 528.3,186.5ZM544,193 553.1,193.3 546.5,187.8 537.4,187.2ZM553.1,193.3 562.2,193.5 555.6,188.2 546.5,187.8ZM562.2,193.5 571.3,193.6 564.7,188.7 555.6,188.2ZM571.3,193.6 580.4,193.6 573.8,188.8 564.7,188.7ZM580.4,193.6 589.5,193.6 582.9,188.9 573.8,188.8ZM589.5,193.6 598.6,193.5 592,188.9 582.9,188.9ZM598.6,193.5 607.7,193.4 601.1,188.9 592,188.9ZM607.7,193.4 616.8,193.3 610.2,188.9 601.1,188.9ZM473.7,185.7 482.8,185.7 476.3,178.3 467.2,178ZM482.8,185.7 491.9,185.7 485.4,178.6 476.3,178.3ZM491.9,185.7 501,185.7 494.5,178.9 485.4,178.6ZM501,185.7 510.1,185.7 503.6,179.2 494.5,178.9ZM510.1,185.7 519.2,185.7 512.7,179.5 503.6,179.2ZM519.2,185.7 528.3,186.5 521.8,180.5 512.7,179.5ZM528.3,186.5 537.4,187.2 530.9,181.5 521.8,180.5ZM537.4,187.2 546.5,187.8 540,182.3 530.9,181.5ZM546.5,187.8 555.6,188.2 549.1,183 540,182.3ZM555.6,188.2 564.7,188.7 558.2,183.7 549.1,183ZM564.7,188.7 573.8,188.8 567.3,183.9 558.2,183.7ZM573.8,188.8 582.9,188.9 576.4,184.2 567.3,183.9ZM582.9,188.9 592,188.9 585.5,184.4 576.4,184.2ZM592,188.9 601.1,188.9 594.6,184.5 585.5,184.4ZM601.1,188.9 610.2,188.9 603.7,184.6 594.6,184.5ZM467.2,178 476.3,178.3 469.7,170.9 460.6,170.3ZM476.3,178.3 485.4,178.6 478.8,171.5 469.7,170.9ZM485.4,178.6 494.5,178.9 487.9,172.1 478.8,171.5ZM494.5,178.9 503.6,179.2 497,172.7 487.9,172.1ZM503.6,179.2 512.7,179.5 506.1,173.3 497,172.7ZM512.7,179.5 521.8,180.5 515.2,174.6 506.1,173.3ZM521.8,180.5 530.9,181.5 524.3,175.8 515.2,174.6ZM530.9,181.5 540,182.3 533.4,176.9 524.3,175.8ZM540,182.3 549.1,183 542.5,177.8 533.4,176.9ZM549.1,183 558.2,183.7 551.6,178.8 542.5,177.8ZM558.2,183.7 567.3,183.9 560.7,179.1 551.6,178.8ZM567.3,183.9 576.4,184.2 569.8,179.5 560.7,179.1ZM576.4,184.2 585.5,184.4 578.9,179.8 569.8,179.5ZM585.5,184.4 594.6,184.5 588,180.1 578.9,179.8ZM594.6,184.5 603.7,184.6 597.1,180.3 588,180.1ZM460.6,170.3 469.7,170.9 463.2,163.5 454.1,162.6ZM469.7,170.9 478.8,171.5 472.2,164.4 463.2,163.5ZM478.8,171.5 487.9,172.1 481.4,165.3 472.2,164.4ZM487.9,172.1 497,172.7 490.4,166.2 481.4,165.3ZM497,172.7 506.1,173.3 499.6,167.1 490.4,166.2ZM506.1,173.3 515.2,174.6 508.7,168.6 499.6,167.1ZM515.2,174.6 524.3,175.8 517.8,170.1 508.7,168.6ZM524.3,175.8 533.4,176.9 526.9,171.4 517.8,170.1ZM533.4,176.9 542.5,177.8 536,172.6 526.9,171.4ZM542.5,177.8 551.6,178.8 545,173.8 536,172.6ZM551.6,178.8 560.7,179.1 554.1,174.3 545,173.8ZM560.7,179.1 569.8,179.5 563.2,174.8 554.1,174.3ZM569.8,179.5 578.9,179.8 572.4,175.2 563.2,174.8ZM578.9,179.8 588,180.1 581.5,175.6 572.4,175.2ZM588,180.1 597.1,180.3 590.5,176 581.5,175.6ZM454.1,162.6 463.2,163.5 456.6,156.1 447.5,154.9ZM463.2,163.5 472.2,164.4 465.7,157.3 456.6,156.1ZM472.2,164.4 481.4,165.3 474.8,158.5 465.7,157.3ZM481.4,165.3 490.4,166.2 483.9,159.8 474.8,158.5ZM490.4,166.2 499.6,167.1 493,161 483.9,159.8ZM499.6,167.1 508.7,168.6 502.1,162.7 493,161ZM508.7,168.6 517.8,170.1 511.2,164.3 502.1,162.7ZM517.8,170.1 526.9,171.4 520.3,165.9 511.2,164.3ZM526.9,171.4 536,172.6 529.4,167.4 520.3,165.9ZM536,172.6 545,173.8 538.5,168.8 529.4,167.4ZM545,173.8 554.1,174.3 547.6,169.5 538.5,168.8ZM554.1,174.3 563.2,174.8 556.7,170.1 547.6,169.5ZM563.2,174.8 572.4,175.2 565.8,170.7 556.7,170.1ZM572.4,175.2 581.5,175.6 574.9,171.2 565.8,170.7ZM581.5,175.6 590.5,176 584,171.7 574.9,171.2ZM447.5,154.9 456.6,156.1 450,148.7 440.9,147.2ZM456.6,156.1 465.7,157.3 459.1,150.2 450,148.7ZM465.7,157.3 474.8,158.5 468.2,151.8 459.1,150.2ZM474.8,158.5 483.9,159.8 477.3,153.3 468.2,151.8ZM483.9,159.8 493,161 486.4,154.8 477.3,153.3ZM493,161 502.1,162.7 495.5,156.7 486.4,154.8ZM502.1,162.7 511.2,164.3 504.6,158.6 495.5,156.7ZM511.2,164.3 520.3,165.9 513.7,160.5 504.6,158.6ZM520.3,165.9 529.4,167.4 522.8,162.2 513.7,160.5ZM529.4,167.4 538.5,168.8 531.9,163.9 522.8,162.2ZM538.5,168.8 547.6,169.5 541,164.7 531.9,163.9ZM547.6,169.5 556.7,170.1 550.1,165.4 541,164.7ZM556.7,170.1 565.8,170.7 559.2,166.1 550.1,165.4ZM565.8,170.7 574.9,171.2 568.3,166.8 559.2,166.1ZM574.9,171.2 584,171.7 577.4,167.4 568.3,166.8ZM440.9,147.2 450,148.7 443.5,141.3 434.4,139.5ZM450,148.7 459.1,150.2 452.6,143.2 443.5,141.3ZM459.1,150.2 468.2,151.8 461.7,145 452.6,143.2ZM468.2,151.8 477.3,153.3 470.8,146.8 461.7,145ZM477.3,153.3 486.4,154.8 479.9,148.6 470.8,146.8ZM486.4,154.8 495.5,156.7 489,150.8 479.9,148.6ZM495.5,156.7 504.6,158.6 498.1,153 489,150.8ZM504.6,158.6 513.7,160.5 507.2,155 498.1,153ZM513.7,160.5 522.8,162.2 516.3,157 507.2,155ZM522.8,162.2 531.9,163.9 525.4,159 516.3,157ZM531.9,163.9 541,164.7 534.5,159.8 525.4,159ZM541,164.7 550.1,165.4 543.6,160.7 534.5,159.8ZM550.1,165.4 559.2,166.1 552.7,161.6 543.6,160.7ZM559.2,166.1 568.3,166.8 561.8,162.4 552.7,161.6ZM568.3,166.8 577.4,167.4 570.9,163.2 561.8,162.4ZM434.4,139.5 443.5,141.3 436.9,134 427.8,131.8ZM443.5,141.3 452.6,143.2 446,136.1 436.9,134ZM452.6,143.2 461.7,145 455.1,138.2 446,136.1ZM461.7,145 470.8,146.8 464.2,140.4 455.1,138.2ZM470.8,146.8 479.9,148.6 473.3,142.5 464.2,140.4ZM479.9,148.6 489,150.8 482.4,144.9 473.3,142.5ZM489,150.8 498.1,153 491.5,147.3 482.4,144.9ZM498.1,153 507.2,155 500.6,149.6 491.5,147.3ZM507.2,155 516.3,157 509.7,151.8 500.6,149.6ZM516.3,157 525.4,159 518.8,154 509.7,151.8ZM525.4,159 534.5,159.8 527.9,155 518.8,154ZM534.5,159.8 543.6,160.7 537,156 527.9,155ZM543.6,160.7 552.7,161.6 546.1,157 537,156ZM552.7,161.6 561.8,162.4 555.2,158 546.1,157ZM561.8,162.4 570.9,163.2 564.3,158.9 555.2,158ZM427.8,131.8 436.9,134 430.3,126.6 421.2,124.1ZM436.9,134 446,136.1 439.4,129 430.3,126.6ZM446,136.1 455.1,138.2 448.5,131.5 439.4,129ZM455.1,138.2 464.2,140.4 457.6,133.9 448.5,131.5ZM464.2,140.4 473.3,142.5 466.7,136.3 457.6,133.9ZM473.3,142.5 482.4,144.9 475.8,139 466.7,136.3ZM482.4,144.9 491.5,147.3 484.9,141.6 475.8,139ZM491.5,147.3 500.6,149.6 494,144.1 484.9,141.6ZM500.6,149.6 509.7,151.8 503.1,146.6 494,144.1ZM509.7,151.8 518.8,154 512.2,149.1 503.1,146.6ZM518.8,154 527.9,155 521.3,150.2 512.2,149.1ZM527.9,155 537,156 530.4,151.4 521.3,150.2ZM537,156 546.1,157 539.5,152.5 530.4,151.4ZM546.1,157 555.2,158 548.6,153.7 539.5,152.5ZM555.2,158 564.3,158.9 557.7,154.8 548.6,153.7ZM421.2,124.1 430.3,126.6 423.8,119.2 414.7,116.5ZM430.3,126.6 439.4,129 432.9,122 423.8,119.2ZM439.4,129 448.5,131.5 442,124.7 432.9,122ZM448.5,131.5 457.6,133.9 451.1,127.5 442,124.7ZM457.6,133.9 466.7,136.3 460.2,130.2 451.1,127.5ZM466.7,136.3 475.8,139 469.3,133 460.2,130.2ZM475.8,139 484.9,141.6 478.4,135.9 469.3,133ZM484.9,141.6 494,144.1 487.5,138.7 478.4,135.9ZM494,144.1 503.1,146.6 496.6,141.4 487.5,138.7ZM503.1,146.6 512.2,149.1 505.7,144.1 496.6,141.4ZM512.2,149.1 521.3,150.2 514.8,145.4 505.7,144.1ZM521.3,150.2 530.4,151.4 523.9,146.7 514.8,145.4ZM530.4,151.4 539.5,152.5 533,148 523.9,146.7ZM539.5,152.5 548.6,153.7 542.1,149.4 533,148ZM548.6,153.7 557.7,154.8 551.2,150.7 542.1,149.4ZM414.7,116.5 423.8,119.2 417.2,111.9 408.1,108.8ZM423.8,119.2 432.9,122 426.3,115 417.2,111.9ZM432.9,122 442,124.7 435.4,118 426.3,115ZM442,124.7 451.1,127.5 444.5,121 435.4,118ZM451.1,127.5 460.2,130.2 453.6,124 444.5,121ZM460.2,130.2 469.3,133 462.7,127.1 453.6,124ZM469.3,133 478.4,135.9 471.8,130.2 462.7,127.1ZM478.4,135.9 487.5,138.7 480.9,133.3 471.8,130.2ZM487.5,138.7 496.6,141.4 490,136.2 480.9,133.3ZM496.6,141.4 505.7,144.1 499.1,139.2 490,136.2ZM505.7,144.1 514.8,145.4 508.2,140.6 499.1,139.2ZM514.8,145.4 523.9,146.7 517.3,142 508.2,140.6ZM523.9,146.7 533,148 526.4,143.5 517.3,142ZM533,148 542.1,149.4 535.5,145.1 526.4,143.5ZM542.1,149.4 551.2,150.7 544.6,146.6 535.5,145.1ZM408.1,108.8 417.2,111.9 410.7,104.6 401.6,101.2ZM417.2,111.9 426.3,115 419.8,107.9 410.7,104.6ZM426.3,115 435.4,118 428.9,111.2 419.8,107.9ZM435.4,118 444.5,121 437.9,114.6 428.9,111.2ZM444.5,121 453.6,124 447.1,117.9 437.9,114.6ZM453.6,124 462.7,127.1 456.2,121.2 447.1,117.9ZM462.7,127.1 471.8,130.2 465.2,124.6 456.2,121.2ZM471.8,130.2 480.9,133.3 474.4,127.8 465.2,124.6ZM480.9,133.3 490,136.2 483.4,131.1 474.4,127.8ZM490,136.2 499.1,139.2 492.6,134.3 483.4,131.1ZM499.1,139.2 508.2,140.6 501.6,135.8 492.6,134.3ZM508.2,140.6 517.3,142 510.8,137.3 501.6,135.8ZM517.3,142 526.4,143.5 519.9,138.9 510.8,137.3ZM526.4,143.5 535.5,145.1 529,140.7 519.9,138.9ZM535.5,145.1 544.6,146.6 538,142.4 529,140.7ZM401.6,101.2 410.7,104.6 404.1,97.2 395,93.6ZM410.7,104.6 419.8,107.9 413.2,100.9 404.1,97.2ZM419.8,107.9 428.9,111.2 422.3,104.5 413.2,100.9ZM428.9,111.2 437.9,114.6 431.4,108.1 422.3,104.5ZM437.9,114.6 447.1,117.9 440.5,111.7 431.4,108.1ZM447.1,117.9 456.2,121.2 449.6,115.3 440.5,111.7ZM456.2,121.2 465.2,124.6 458.7,118.9 449.6,115.3ZM465.2,124.6 474.4,127.8 467.8,122.4 458.7,118.9ZM474.4,127.8 483.4,131.1 476.9,125.9 467.8,122.4ZM483.4,131.1 492.6,134.3 486,129.3 476.9,125.9ZM492.6,134.3 501.6,135.8 495.1,131 486,129.3ZM501.6,135.8 510.8,137.3 504.2,132.6 495.1,131ZM510.8,137.3 519.9,138.9 513.3,134.3 504.2,132.6ZM519.9,138.9 529,140.7 522.4,136.2 513.3,134.3ZM529,140.7 538,142.4 531.5,138.1 522.4,136.2ZM395,93.6 404.1,97.2 397.5,89.9 388.4,86ZM404.1,97.2 413.2,100.9 406.6,93.9 397.5,89.9ZM413.2,100.9 422.3,104.5 415.7,97.8 406.6,93.9ZM422.3,104.5 431.4,108.1 424.8,101.7 415.7,97.8ZM431.4,108.1 440.5,111.7 433.9,105.6 424.8,101.7ZM440.5,111.7 449.6,115.3 443,109.4 433.9,105.6ZM449.6,115.3 458.7,118.9 452.1,113.2 443,109.4ZM458.7,118.9 467.8,122.4 461.2,117 452.1,113.2ZM467.8,122.4 476.9,125.9 470.3,120.7 461.2,117ZM476.9,125.9 486,129.3 479.4,124.4 470.3,120.7ZM486,129.3 495.1,131 488.5,126.2 479.4,124.4ZM495.1,131 504.2,132.6 497.6,127.9 488.5,126.2ZM504.2,132.6 513.3,134.3 506.7,129.7 497.6,127.9ZM513.3,134.3 522.4,136.2 515.8,131.6 506.7,129.7ZM522.4,136.2 531.5,138.1 524.9,133.5 515.8,131.6ZM388.4,86 397.5,89.9 391,82.6 381.9,78.4ZM397.5,89.9 406.6,93.9 400.1,86.9 391,82.6ZM406.6,93.9 415.7,97.8 409.2,91.1 400.1,86.9ZM415.7,97.8 424.8,101.7 418.3,95.3 409.2,91.1ZM424.8,101.7 433.9,105.6 427.4,99.4 418.3,95.3ZM433.9,105.6 443,109.4 436.5,103.5 427.4,99.4ZM443,109.4 452.1,113.2 445.6,107.5 436.5,103.5ZM452.1,113.2 461.2,117 454.7,111.5 445.6,107.5ZM461.2,117 470.3,120.7 463.8,115.5 454.7,111.5ZM470.3,120.7 479.4,124.4 472.9,119.5 463.8,115.5ZM479.4,124.4 488.5,126.2 482,121.4 472.9,119.5ZM488.5,126.2 497.6,127.9 491.1,123.2 482,121.4ZM497.6,127.9 506.7,129.7 500.2,125.1 491.1,123.2ZM506.7,129.7 515.8,131.6 509.3,126.9 500.2,125.1ZM515.8,131.6 524.9,133.5 518.4,128.8 509.3,126.9ZM381.9,78.4 391,82.6 384.4,75.3 375.3,70.8ZM391,82.6 400.1,86.9 393.5,79.9 384.4,75.3ZM400.1,86.9 409.2,91.1 402.6,84.4 393.5,79.9ZM409.2,91.1 418.3,95.3 411.7,88.8 402.6,84.4ZM418.3,95.3 427.4,99.4 420.8,93.3 411.7,88.8ZM427.4,99.4 436.5,103.5 429.9,97.6 420.8,93.3ZM436.5,103.5 445.6,107.5 439,101.9 429.9,97.6ZM445.6,107.5 454.7,111.5 448.1,106.1 439,101.9ZM454.7,111.5 463.8,115.5 457.2,110.3 448.1,106.1ZM463.8,115.5 472.9,119.5 466.3,114.6 457.2,110.3ZM472.9,119.5 482,121.4 475.4,116.6 466.3,114.6ZM482,121.4 491.1,123.2 484.5,118.6 475.4,116.6ZM491.1,123.2 500.2,125.1 493.6,120.4 484.5,118.6ZM500.2,125.1 509.3,126.9 502.7,122.2 493.6,120.4ZM509.3,126.9 518.4,128.8 511.8,123.9 502.7,122.2Z" fill="#D95319" fill-opacity="0.3" stroke="none"/><path d="M480.3,193.4 489.4,193.1 498.5,192.8 507.6,192.5 516.7,192.3 525.8,192 534.9,192.5 544,193 553.1,193.3 562.2,193.5 571.3,193.6 580.4,193.6 589.5,193.6 598.6,193.5 607.7,193.4 616.8,193.3M473.7,185.7 482.8,185.7 491.9,185.7 501,185.7 510.1,185.7 519.2,185.7 528.3,186.5 537.4,187.2 546.5,187.8 555.6,188.2 564.7,188.7 573.8,188.8 582.9,188.9 592,188.9 601.1,188.9 610.2,188.9M467.2,178 476.3,178.3 485.4,178.6 494.5,178.9 503.6,179.2 512.7,179.5 521.8,180.5 530.9,181.5 540,182.3 549.1,183 558.2,183.7 567.3,183.9 576.4,184.2 585.5,184.4 594.6,184.5 603.7,184.6M460.6,170.3 469.7,170.9 478.8,171.5 487.9,172.1 497,172.7 506.1,173.3 515.2,174.6 524.3,175.8 533.4,176.9 542.5,177.8 551.6,178.8 560.7,179.1 569.8,179.5 578.9,179.8 588,180.1 597.1,180.3M454.1,162.6 463.2,163.5 472.2,164.4 481.4,165.3 490.4,166.2 499.6,167.1 508.7,168.6 517.8,170.1 526.9,171.4 536,172.6 545,173.8 554.1,174.3 563.2,174.8 572.4,175.2 581.5,175.6 590.5,176M447.5,154.9 456.6,156.1 465.7,157.3 474.8,158.5 483.9,159.8 493,161 502.1,162.7 511.2,164.3 520.3,165.9 529.4,167.4 538.5,168.8 547.6,169.5 556.7,170.1 565.8,170.7 574.9,171.2 584,171.7M440.9,147.2 450,148.7 459.1,150.2 468.2,151.8 477.3,153.3 486.4,154.8 495.5,156.7 504.6,158.6 513.7,160.5 522.8,162.2 531.9,163.9 541,164.7 550.1,165.4 559.2,166.1 568.3,166.8 577.4,167.4M434.4,139.5 443.5,141.3 452.6,143.2 461.7,145 470.8,146.8 479.9,148.6 489,150.8 498.1,153 507.2,155 516.3,157 525.4,159 534.5,159.8 543.6,160.7 552.7,161.6 561.8,162.4 570.9,163.2M427.8,131.8 436.9,134 446,136.1 455.1,138.2 464.2,140.4 473.3,142.5 482.4,144.9 491.5,147.3 500.6,149.6 509.7,151.8 518.8,154 527.9,155 537,156 546.1,157 555.2,158 564.3,158.9M421.2,124.1 430.3,126.6 439.4,129 448.5,131.5 457.6,133.9 466.7,136.3 475.8,139 484.9,141.6 494,144.1 503.1,146.6 512.2,149.1 521.3,150.2 530.4,151.4 539.5,152.5 548.6,153.7 557.7,154.8M414.7,116.5 423.8,119.2 432.9,122 442,124.7 451.1,127.5 460.2,130.2 469.3,133 478.4,135.9 487.5,138.7 496.6,141.4 505.7,144.1 514.8,145.4 523.9,146.7 533,148 542.1,149.4 551.2,150.7M408.1,108.8 417.2,111.9 426.3,115 435.4,118 444.5,121 453.6,124 462.7,127.1 471.8,130.2 480.9,133.3 490,136.2 499.1,139.2 508.2,140.6 517.3,142 526.4,143.5 535.5,145.1 544.6,146.6M401.6,101.2 410.7,104.6 419.8,107.9 428.9,111.2 437.9,114.6 447.1,117.9 456.2,121.2 465.2,124.6 474.4,127.8 483.4,131.1 492.6,134.3 501.6,135.8 510.8,137.3 519.9,138.9 529,140.7 538,142.4M395,93.6 404.1,97.2 413.2,100.9 422.3,104.5 431.4,108.1 440.5,111.7 449.6,115.3 458.7,118.9 467.8,122.4 476.9,125.9 486,129.3 495.1,131 504.2,132.6 513.3,134.3 522.4,136.2 531.5,138.1M388.4,86 397.5,89.9 406.6,93.9 415.7,97.8 424.8,101.7 433.9,105.6 443,109.4 452.1,113.2 461.2,117 470.3,120.7 479.4,124.4 488.5,126.2 497.6,127.9 506.7,129.7 515.8,131.6 524.9,133.5M381.9,78.4 391,82.6 400.1,86.9 409.2,91.1 418.3,95.3 427.4,99.4 436.5,103.5 445.6,107.5 454.7,111.5 463.8,115.5 472.9,119.5 482,121.4 491.1,123.2 500.2,125.1 509.3,126.9 518.4,128.8M375.3,70.8 384.4,75.3 393.5,79.9 402.6,84.4 411.7,88.8 420.8,93.3 429.9,97.6 439,101.9 448.1,106.1 457.2,110.3 466.3,114.6 475.4,116.6 484.5,118.6 493.6,120.4 502.7,122.2 511.8,123.9M480.3,193.4 473.7,185.7 467.2,178 460.6,170.3 454.1,162.6 447.5,154.9 440.9,147.2 434.4,139.5 427.8,131.8 421.2,124.1 414.7,116.5 408.1,108.8 401.6,101.2 395,93.6 388.4,86 381.9,78.4 375.3,70.8M489.4,193.1 482.8,185.7 476.3,178.3 469.7,170.9 463.2,163.5 456.6,156.1 450,148.7 443.5,141.3 436.9,134 430.3,126.6 423.8,119.2 417.2,111.9 410.7,104.6 404.1,97.2 397.5,89.9 391,82.6 384.4,75.3M498.5,192.8 491.9,185.7 485.4,178.6 478.8,171.5 472.2,164.4 465.7,157.3 459.1,150.2 452.6,143.2 446,136.1 439.4,129 432.9,122 426.3,115 419.8,107.9 413.2,100.9 406.6,93.9 400.1,86.9 393.5,79.9M507.6,192.5 501,185.7 494.5,178.9 487.9,172.1 481.4,165.3 474.8,158.5 468.2,151.8 461.7,145 455.1,138.2 448.5,131.5 442,124.7 435.4,118 428.9,111.2 422.3,104.5 415.7,97.8 409.2,91.1 402.6,84.4M516.7,192.3 510.1,185.7 503.6,179.2 497,172.7 490.4,166.2 483.9,159.8 477.3,153.3 470.8,146.8 464.2,140.4 457.6,133.9 451.1,127.5 444.5,121 437.9,114.6 431.4,108.1 424.8,101.7 418.3,95.3 411.7,88.8M525.8,192 519.2,185.7 512.7,179.5 506.1,173.3 499.6,167.1 493,161 486.4,154.8 479.9,148.6 473.3,142.5 466.7,136.3 460.2,130.2 453.6,124 447.1,117.9 440.5,111.7 433.9,105.6 427.4,99.4 420.8,93.3M534.9,192.5 528.3,186.5 521.8,180.5 515.2,174.6 508.7,168.6 502.1,162.7 495.5,156.7 489,150.8 482.4,144.9 475.8,139 469.3,133 462.7,127.1 456.2,121.2 449.6,115.3 443,109.4 436.5,103.5 429.9,97.6M544,193 537.4,187.2 530.9,181.5 524.3,175.8 517.8,170.1 511.2,164.3 504.6,158.6 498.1,153 491.5,147.3 484.9,141.6 478.4,135.9 471.8,130.2 465.2,124.6 458.7,118.9 452.1,113.2 445.6,107.5 439,101.9M553.1,193.3 546.5,187.8 540,182.3 533.4,176.9 526.9,171.4 520.3,165.9 513.7,160.5 507.2,155 500.6,149.6 494,144.1 487.5,138.7 480.9,133.3 474.4,127.8 467.8,122.4 461.2,117 454.7,111.5 448.1,106.1M562.2,193.5 555.6,188.2 549.1,183 542.5,177.8 536,172.6 529.4,167.4 522.8,162.2 516.3,157 509.7,151.8 503.1,146.6 496.6,141.4 490,136.2 483.4,131.1 476.9,125.9 470.3,120.7 463.8,115.5 457.2,110.3M571.3,193.6 564.7,188.7 558.2,183.7 551.6,178.8 545,173.8 538.5,168.8 531.9,163.9 525.4,159 518.8,154 512.2,149.1 505.7,144.1 499.1,139.2 492.6,134.3 486,129.3 479.4,124.4 472.9,119.5 466.3,114.6M580.4,193.6 573.8,188.8 567.3,183.9 560.7,179.1 554.1,174.3 547.6,169.5 541,164.7 534.5,159.8 527.9,155 521.3,150.2 514.8,145.4 508.2,140.6 501.6,135.8 495.1,131 488.5,126.2 482,121.4 475.4,116.6M589.5,193.6 582.9,188.9 576.4,184.2 569.8,179.5 563.2,174.8 556.7,170.1 550.1,165.4 543.6,160.7 537,156 530.4,151.4 523.9,146.7 517.3,142 510.8,137.3 504.2,132.6 497.6,127.9 491.1,123.2 484.5,118.6M598.6,193.5 592,188.9 585.5,184.4 578.9,179.8 572.4,175.2 565.8,170.7 559.2,166.1 552.7,161.6 546.1,157 539.5,152.5 533,148 526.4,143.5 519.9,138.9 513.3,134.3 506.7,129.7 500.2,125.1 493.6,120.4M607.7,193.4 601.1,188.9 594.6,184.5 588,180.1 581.5,175.6 574.9,171.2 568.3,166.8 561.8,162.4 555.2,158 548.6,153.7 542.1,149.4 535.5,145.1 529,140.7 522.4,136.2 515.8,131.6 509.3,126.9 502.7,122.2M616.8,193.3 610.2,188.9 603.7,184.6 597.1,180.3 590.5,176 584,171.7 577.4,167.4 570.9,163.2 564.3,158.9 557.7,154.8 551.2,150.7 544.6,146.6 538,142.4 531.5,138.1 524.9,133.5 518.4,128.8 511.8,123.9" fill="none" stroke="#D95319" stroke-width="0.55" stroke-linejoin="round"/><path d="M480.3,190.9 489.4,189.5 482.8,181.7 473.7,182.9ZM489.4,189.5 498.5,188.1 491.9,180.4 482.8,181.7ZM498.5,188.1 507.6,187 501,179.3 491.9,180.4ZM507.6,187 516.7,186.1 510.1,178.5 501,179.3ZM516.7,186.1 525.8,185.1 519.2,177.7 510.1,178.5ZM525.8,185.1 534.9,183.9 528.3,176.6 519.2,177.7ZM534.9,183.9 544,182.6 537.4,175.6 528.3,176.6ZM544,182.6 553.1,181.4 546.5,174.7 537.4,175.6ZM553.1,181.4 562.2,180.3 555.6,174 546.5,174.7ZM562.2,180.3 571.3,179.2 564.7,173.3 555.6,174ZM571.3,179.2 580.4,179.1 573.8,173.5 564.7,173.3ZM580.4,179.1 589.5,178.9 582.9,173.7 573.8,173.5ZM589.5,178.9 598.6,179 592,174.2 582.9,173.7ZM598.6,179 607.7,179.3 601.1,174.9 592,174.2ZM607.7,179.3 616.8,179.6 610.2,175.6 601.1,174.9ZM473.7,182.9 482.8,181.7 476.3,173.8 467.2,174.9ZM482.8,181.7 491.9,180.4 485.4,172.6 476.3,173.8ZM491.9,180.4 501,179.3 494.5,171.7 485.4,172.6ZM501,179.3 510.1,178.5 503.6,171 494.5,171.7ZM510.1,178.5 519.2,177.7 512.7,170.2 503.6,171ZM519.2,177.7 528.3,176.6 521.8,169.4 512.7,170.2ZM528.3,176.6 537.4,175.6 530.9,168.5 521.8,169.4ZM537.4,175.6 546.5,174.7 540,168 530.9,168.5ZM546.5,174.7 555.6,174 549.1,167.6 540,168ZM555.6,174 564.7,173.3 558.2,167.3 549.1,167.6ZM564.7,173.3 573.8,173.5 567.3,167.9 558.2,167.3ZM573.8,173.5 582.9,173.7 576.4,168.5 567.3,167.9ZM582.9,173.7 592,174.2 585.5,169.3 576.4,168.5ZM592,174.2 601.1,174.9 594.6,170.4 585.5,169.3ZM601.1,174.9 610.2,175.6 603.7,171.5 594.6,170.4ZM467.2,174.9 476.3,173.8 469.7,166 460.6,167ZM476.3,173.8 485.4,172.6 478.8,165 469.7,166ZM485.4,172.6 494.5,171.7 487.9,164.1 478.8,165ZM494.5,171.7 503.6,171 497,163.5 487.9,164.1ZM503.6,171 512.7,170.2 506.1,162.8 497,163.5ZM512.7,170.2 521.8,169.4 515.2,162.1 506.1,162.8ZM521.8,169.4 530.9,168.5 524.3,161.5 515.2,162.1ZM530.9,168.5 540,168 533.4,161.2 524.3,161.5ZM540,168 549.1,167.6 542.5,161.3 533.4,161.2ZM549.1,167.6 558.2,167.3 551.6,161.4 542.5,161.3ZM558.2,167.3 567.3,167.9 560.7,162.3 551.6,161.4ZM567.3,167.9 576.4,168.5 569.8,163.3 560.7,162.3ZM576.4,168.5 585.5,169.3 578.9,164.5 569.8,163.3ZM585.5,169.3 594.6,170.4 588,166 578.9,164.5ZM594.6,170.4 603.7,171.5 597.1,167.4 588,166ZM460.6,167 469.7,166 463.2,158.2 454.1,159.1ZM469.7,166 478.8,165 472.2,157.3 463.2,158.2ZM478.8,165 487.9,164.1 481.4,156.5 472.2,157.3ZM487.9,164.1 497,163.5 490.4,156 481.4,156.5ZM497,163.5 506.1,162.8 499.6,155.4 490.4,156ZM506.1,162.8 515.2,162.1 508.7,154.9 499.6,155.4ZM515.2,162.1 524.3,161.5 517.8,154.5 508.7,154.9ZM524.3,161.5 533.4,161.2 526.9,154.5 517.8,154.5ZM533.4,161.2 542.5,161.3 536,155 526.9,154.5ZM542.5,161.3 551.6,161.4 545,155.5 536,155ZM551.6,161.4 560.7,162.3 554.1,156.7 545,155.5ZM560.7,162.3 569.8,163.3 563.2,158 554.1,156.7ZM569.8,163.3 578.9,164.5 572.4,159.6 563.2,158ZM578.9,164.5 588,166 581.5,161.5 572.4,159.6ZM588,166 597.1,167.4 590.5,163.3 581.5,161.5ZM454.1,159.1 463.2,158.2 456.6,150.5 447.5,151.2ZM463.2,158.2 472.2,157.3 465.7,149.7 456.6,150.5ZM472.2,157.3 481.4,156.5 474.8,149 465.7,149.7ZM481.4,156.5 490.4,156 483.9,148.5 474.8,149ZM490.4,156 499.6,155.4 493,147.9 483.9,148.5ZM499.6,155.4 508.7,154.9 502.1,147.7 493,147.9ZM508.7,154.9 517.8,154.5 511.2,147.4 502.1,147.7ZM517.8,154.5 526.9,154.5 520.3,147.7 511.2,147.4ZM526.9,154.5 536,155 529.4,148.6 520.3,147.7ZM536,155 545,155.5 538.5,149.5 529.4,148.6ZM545,155.5 554.1,156.7 547.6,151.1 538.5,149.5ZM554.1,156.7 563.2,158 556.7,152.7 547.6,151.1ZM563.2,158 572.4,159.6 565.8,154.7 556.7,152.7ZM572.4,159.6 581.5,161.5 574.9,157 565.8,154.7ZM581.5,161.5 590.5,163.3 584,159.2 574.9,157ZM447.5,151.2 456.6,150.5 450,142.8 440.9,143.4ZM456.6,150.5 465.7,149.7 459.1,142.1 450,142.8ZM465.7,149.7 474.8,149 468.2,141.5 459.1,142.1ZM474.8,149 483.9,148.5 477.3,141 468.2,141.5ZM483.9,148.5 493,147.9 486.4,140.5 477.3,141ZM493,147.9 502.1,147.7 495.5,140.4 486.4,140.5ZM502.1,147.7 511.2,147.4 504.6,140.4 495.5,140.4ZM511.2,147.4 520.3,147.7 513.7,141 504.6,140.4ZM520.3,147.7 529.4,148.6 522.8,142.3 513.7,141ZM529.4,148.6 538.5,149.5 531.9,143.5 522.8,142.3ZM538.5,149.5 547.6,151.1 541,145.5 531.9,143.5ZM547.6,151.1 556.7,152.7 550.1,147.5 541,145.5ZM556.7,152.7 565.8,154.7 559.2,149.8 550.1,147.5ZM565.8,154.7 574.9,157 568.3,152.5 559.2,149.8ZM574.9,157 584,159.2 577.4,155.1 568.3,152.5ZM440.9,143.4 450,142.8 443.5,135.1 434.4,135.6ZM450,142.8 459.1,142.1 452.6,134.6 443.5,135.1ZM459.1,142.1 468.2,141.5 461.7,134.1 452.6,134.6ZM468.2,141.5 477.3,141 470.8,133.6 461.7,134.1ZM477.3,141 486.4,140.5 479.9,133.1 470.8,133.6ZM486.4,140.5 495.5,140.4 489,133.2 479.9,133.1ZM495.5,140.4 504.6,140.4 498.1,133.3 489,133.2ZM504.6,140.4 513.7,141 507.2,134.3 498.1,133.3ZM513.7,141 522.8,142.3 516.3,135.9 507.2,134.3ZM522.8,142.3 531.9,143.5 525.4,137.6 516.3,135.9ZM531.9,143.5 541,145.5 534.5,139.9 525.4,137.6ZM541,145.5 550.1,147.5 543.6,142.2 534.5,139.9ZM550.1,147.5 559.2,149.8 552.7,144.8 543.6,142.2ZM559.2,149.8 568.3,152.5 561.8,147.9 552.7,144.8ZM568.3,152.5 577.4,155.1 570.9,151 561.8,147.9ZM434.4,135.6 443.5,135.1 436.9,127.4 427.8,127.8ZM443.5,135.1 452.6,134.6 446,127 436.9,127.4ZM452.6,134.6 461.7,134.1 455.1,126.6 446,127ZM461.7,134.1 470.8,133.6 464.2,126.1 455.1,126.6ZM470.8,133.6 479.9,133.1 473.3,125.7 464.2,126.1ZM479.9,133.1 489,133.2 482.4,126.1 473.3,125.7ZM489,133.2 498.1,133.3 491.5,126.4 482.4,126.1ZM498.1,133.3 507.2,134.3 500.6,127.6 491.5,126.4ZM507.2,134.3 516.3,135.9 509.7,129.7 500.6,127.6ZM516.3,135.9 525.4,137.6 518.8,131.8 509.7,129.7ZM525.4,137.6 534.5,139.9 527.9,134.3 518.8,131.8ZM534.5,139.9 543.6,142.2 537,136.9 527.9,134.3ZM543.6,142.2 552.7,144.8 546.1,139.8 537,136.9ZM552.7,144.8 561.8,147.9 555.2,143.3 546.1,139.8ZM561.8,147.9 570.9,151 564.3,146.7 555.2,143.3ZM427.8,127.8 436.9,127.4 430.3,119.7 421.2,120ZM436.9,127.4 446,127 439.4,119.3 430.3,119.7ZM446,127 455.1,126.6 448.5,119 439.4,119.3ZM455.1,126.6 464.2,126.1 457.6,118.7 448.5,119ZM464.2,126.1 473.3,125.7 466.7,118.3 457.6,118.7ZM473.3,125.7 482.4,126.1 475.8,118.9 466.7,118.3ZM482.4,126.1 491.5,126.4 484.9,119.5 475.8,118.9ZM491.5,126.4 500.6,127.6 494,121.1 484.9,119.5ZM500.6,127.6 509.7,129.7 503.1,123.6 494,121.1ZM509.7,129.7 518.8,131.8 512.2,126.1 503.1,123.6ZM518.8,131.8 527.9,134.3 521.3,128.8 512.2,126.1ZM527.9,134.3 537,136.9 530.4,131.5 521.3,128.8ZM537,136.9 546.1,139.8 539.5,134.7 530.4,131.5ZM546.1,139.8 555.2,143.3 548.6,138.5 539.5,134.7ZM555.2,143.3 564.3,146.7 557.7,142.2 548.6,138.5ZM421.2,120 430.3,119.7 423.8,111.9 414.7,112.2ZM430.3,119.7 439.4,119.3 432.9,111.7 423.8,111.9ZM439.4,119.3 448.5,119 442,111.4 432.9,111.7ZM448.5,119 457.6,118.7 451.1,111.2 442,111.4ZM457.6,118.7 466.7,118.3 460.2,110.9 451.1,111.2ZM466.7,118.3 475.8,118.9 469.3,111.8 460.2,110.9ZM475.8,118.9 484.9,119.5 478.4,112.7 469.3,111.8ZM484.9,119.5 494,121.1 487.5,114.6 478.4,112.7ZM494,121.1 503.1,123.6 496.6,117.6 487.5,114.6ZM503.1,123.6 512.2,126.1 505.7,120.5 496.6,117.6ZM512.2,126.1 521.3,128.8 514.8,123.3 505.7,120.5ZM521.3,128.8 530.4,131.5 523.9,126.1 514.8,123.3ZM530.4,131.5 539.5,134.7 533,129.5 523.9,126.1ZM539.5,134.7 548.6,138.5 542.1,133.5 533,129.5ZM548.6,138.5 557.7,142.2 551.2,137.5 542.1,133.5ZM414.7,112.2 423.8,111.9 417.2,104.2 408.1,104.4ZM423.8,111.9 432.9,111.7 426.3,104 417.2,104.2ZM432.9,111.7 442,111.4 435.4,103.9 426.3,104ZM442,111.4 451.1,111.2 444.5,103.7 435.4,103.9ZM451.1,111.2 460.2,110.9 453.6,103.5 444.5,103.7ZM460.2,110.9 469.3,111.8 462.7,104.7 453.6,103.5ZM469.3,111.8 478.4,112.7 471.8,105.9 462.7,104.7ZM478.4,112.7 487.5,114.6 480.9,108.2 471.8,105.9ZM487.5,114.6 496.6,117.6 490,111.6 480.9,108.2ZM496.6,117.6 505.7,120.5 499.1,115 490,111.6ZM505.7,120.5 514.8,123.3 508.2,117.9 499.1,115ZM514.8,123.3 523.9,126.1 517.3,120.8 508.2,117.9ZM523.9,126.1 533,129.5 526.4,124.4 517.3,120.8ZM533,129.5 542.1,133.5 535.5,128.6 526.4,124.4ZM542.1,133.5 551.2,137.5 544.6,132.8 535.5,128.6ZM408.1,104.4 417.2,104.2 410.7,96.6 401.6,96.6ZM417.2,104.2 426.3,104 419.8,96.5 410.7,96.6ZM426.3,104 435.4,103.9 428.9,96.4 419.8,96.5ZM435.4,103.9 444.5,103.7 437.9,96.3 428.9,96.4ZM444.5,103.7 453.6,103.5 447.1,96.2 437.9,96.3ZM453.6,103.5 462.7,104.7 456.2,97.8 447.1,96.2ZM462.7,104.7 471.8,105.9 465.2,99.4 456.2,97.8ZM471.8,105.9 480.9,108.2 474.4,102.1 465.2,99.4ZM480.9,108.2 490,111.6 483.4,105.7 474.4,102.1ZM490,111.6 499.1,115 492.6,109.4 483.4,105.7ZM499.1,115 508.2,117.9 501.6,112.5 492.6,109.4ZM508.2,117.9 517.3,120.8 510.8,115.7 501.6,112.5ZM517.3,120.8 526.4,124.4 519.9,119.4 510.8,115.7ZM526.4,124.4 535.5,128.6 529,123.8 519.9,119.4ZM535.5,128.6 544.6,132.8 538,128.1 529,123.8ZM401.6,96.6 410.7,96.6 404.1,89 395,89ZM410.7,96.6 419.8,96.5 413.2,89 404.1,89ZM419.8,96.5 428.9,96.4 422.3,89 413.2,89ZM428.9,96.4 437.9,96.3 431.4,89 422.3,89ZM437.9,96.3 447.1,96.2 440.5,88.9 431.4,89ZM447.1,96.2 456.2,97.8 449.6,91.1 440.5,88.9ZM456.2,97.8 465.2,99.4 458.7,93.2 449.6,91.1ZM465.2,99.4 474.4,102.1 467.8,96.2 458.7,93.2ZM474.4,102.1 483.4,105.7 476.9,100 467.8,96.2ZM483.4,105.7 492.6,109.4 486,103.8 476.9,100ZM492.6,109.4 501.6,112.5 495.1,107.2 486,103.8ZM501.6,112.5 510.8,115.7 504.2,110.7 495.1,107.2ZM510.8,115.7 519.9,119.4 513.3,114.7 504.2,110.7ZM519.9,119.4 529,123.8 522.4,119.2 513.3,114.7ZM529,123.8 538,128.1 531.5,123.6 522.4,119.2ZM395,89 404.1,89 397.5,81.5 388.4,81.4ZM404.1,89 413.2,89 406.6,81.6 397.5,81.5ZM413.2,89 422.3,89 415.7,81.7 406.6,81.6ZM422.3,89 431.4,89 424.8,81.7 415.7,81.7ZM431.4,89 440.5,88.9 433.9,81.8 424.8,81.7ZM440.5,88.9 449.6,91.1 443,84.4 433.9,81.8ZM449.6,91.1 458.7,93.2 452.1,87.1 443,84.4ZM458.7,93.2 467.8,96.2 461.2,90.4 452.1,87.1ZM467.8,96.2 476.9,100 470.3,94.3 461.2,90.4ZM476.9,100 486,103.8 479.4,98.2 470.3,94.3ZM486,103.8 495.1,107.2 488.5,102 479.4,98.2ZM495.1,107.2 504.2,110.7 497.6,105.8 488.5,102ZM504.2,110.7 513.3,114.7 506.7,110 497.6,105.8ZM513.3,114.7 522.4,119.2 515.8,114.6 506.7,110ZM522.4,119.2 531.5,123.6 524.9,119.2 515.8,114.6ZM388.4,81.4 397.5,81.5 391,74 381.9,73.9ZM397.5,81.5 406.6,81.6 400.1,74.2 391,74ZM406.6,81.6 415.7,81.7 409.2,74.4 400.1,74.2ZM415.7,81.7 424.8,81.7 418.3,74.5 409.2,74.4ZM424.8,81.7 433.9,81.8 427.4,74.6 418.3,74.5ZM433.9,81.8 443,84.4 436.5,77.9 427.4,74.6ZM443,84.4 452.1,87.1 445.6,81.2 436.5,77.9ZM452.1,87.1 461.2,90.4 454.7,84.8 445.6,81.2ZM461.2,90.4 470.3,94.3 463.8,88.7 454.7,84.8ZM470.3,94.3 479.4,98.2 472.9,92.6 463.8,88.7ZM479.4,98.2 488.5,102 482,96.8 472.9,92.6ZM488.5,102 497.6,105.8 491.1,101.1 482,96.8ZM497.6,105.8 506.7,110 500.2,105.5 491.1,101.1ZM506.7,110 515.8,114.6 509.3,110.1 500.2,105.5ZM515.8,114.6 524.9,119.2 518.4,114.8 509.3,110.1ZM381.9,73.9 391,74 384.4,66.6 375.3,66.4ZM391,74 400.1,74.2 393.5,66.9 384.4,66.6ZM400.1,74.2 409.2,74.4 402.6,67.1 393.5,66.9ZM409.2,74.4 418.3,74.5 411.7,67.4 402.6,67.1ZM418.3,74.5 427.4,74.6 420.8,67.6 411.7,67.4ZM427.4,74.6 436.5,77.9 429.9,71.5 420.8,67.6ZM436.5,77.9 445.6,81.2 439,75.4 429.9,71.5ZM445.6,81.2 454.7,84.8 448.1,79.3 439,75.4ZM454.7,84.8 463.8,88.7 457.2,83.2 448.1,79.3ZM463.8,88.7 472.9,92.6 466.3,87 457.2,83.2ZM472.9,92.6 482,96.8 475.4,91.7 466.3,87ZM482,96.8 491.1,101.1 484.5,96.4 475.4,91.7ZM491.1,101.1 500.2,105.5 493.6,101.1 484.5,96.4ZM500.2,105.5 509.3,110.1 502.7,105.8 493.6,101.1ZM509.3,110.1 518.4,114.8 511.8,110.4 502.7,105.8Z" fill="#0072BD" fill-opacity="0.3" stroke="none"/><path d="M480.3,190.9 489.4,189.5 498.5,188.1 507.6,187 516.7,186.1 525.8,185.1 534.9,183.9 544,182.6 553.1,181.4 562.2,180.3 571.3,179.2 580.4,179.1 589.5,178.9 598.6,179 607.7,179.3 616.8,179.6M473.7,182.9 482.8,181.7 491.9,180.4 501,179.3 510.1,178.5 519.2,177.7 528.3,176.6 537.4,175.6 546.5,174.7 555.6,174 564.7,173.3 573.8,173.5 582.9,173.7 592,174.2 601.1,174.9 610.2,175.6M467.2,174.9 476.3,173.8 485.4,172.6 494.5,171.7 503.6,171 512.7,170.2 521.8,169.4 530.9,168.5 540,168 549.1,167.6 558.2,167.3 567.3,167.9 576.4,168.5 585.5,169.3 594.6,170.4 603.7,171.5M460.6,167 469.7,166 478.8,165 487.9,164.1 497,163.5 506.1,162.8 515.2,162.1 524.3,161.5 533.4,161.2 542.5,161.3 551.6,161.4 560.7,162.3 569.8,163.3 578.9,164.5 588,166 597.1,167.4M454.1,159.1 463.2,158.2 472.2,157.3 481.4,156.5 490.4,156 499.6,155.4 508.7,154.9 517.8,154.5 526.9,154.5 536,155 545,155.5 554.1,156.7 563.2,158 572.4,159.6 581.5,161.5 590.5,163.3M447.5,151.2 456.6,150.5 465.7,149.7 474.8,149 483.9,148.5 493,147.9 502.1,147.7 511.2,147.4 520.3,147.7 529.4,148.6 538.5,149.5 547.6,151.1 556.7,152.7 565.8,154.7 574.9,157 584,159.2M440.9,143.4 450,142.8 459.1,142.1 468.2,141.5 477.3,141 486.4,140.5 495.5,140.4 504.6,140.4 513.7,141 522.8,142.3 531.9,143.5 541,145.5 550.1,147.5 559.2,149.8 568.3,152.5 577.4,155.1M434.4,135.6 443.5,135.1 452.6,134.6 461.7,134.1 470.8,133.6 479.9,133.1 489,133.2 498.1,133.3 507.2,134.3 516.3,135.9 525.4,137.6 534.5,139.9 543.6,142.2 552.7,144.8 561.8,147.9 570.9,151M427.8,127.8 436.9,127.4 446,127 455.1,126.6 464.2,126.1 473.3,125.7 482.4,126.1 491.5,126.4 500.6,127.6 509.7,129.7 518.8,131.8 527.9,134.3 537,136.9 546.1,139.8 555.2,143.3 564.3,146.7M421.2,120 430.3,119.7 439.4,119.3 448.5,119 457.6,118.7 466.7,118.3 475.8,118.9 484.9,119.5 494,121.1 503.1,123.6 512.2,126.1 521.3,128.8 530.4,131.5 539.5,134.7 548.6,138.5 557.7,142.2M414.7,112.2 423.8,111.9 432.9,111.7 442,111.4 451.1,111.2 460.2,110.9 469.3,111.8 478.4,112.7 487.5,114.6 496.6,117.6 505.7,120.5 514.8,123.3 523.9,126.1 533,129.5 542.1,133.5 551.2,137.5M408.1,104.4 417.2,104.2 426.3,104 435.4,103.9 444.5,103.7 453.6,103.5 462.7,104.7 471.8,105.9 480.9,108.2 490,111.6 499.1,115 508.2,117.9 517.3,120.8 526.4,124.4 535.5,128.6 544.6,132.8M401.6,96.6 410.7,96.6 419.8,96.5 428.9,96.4 437.9,96.3 447.1,96.2 456.2,97.8 465.2,99.4 474.4,102.1 483.4,105.7 492.6,109.4 501.6,112.5 510.8,115.7 519.9,119.4 529,123.8 538,128.1M395,89 404.1,89 413.2,89 422.3,89 431.4,89 440.5,88.9 449.6,91.1 458.7,93.2 467.8,96.2 476.9,100 486,103.8 495.1,107.2 504.2,110.7 513.3,114.7 522.4,119.2 531.5,123.6M388.4,81.4 397.5,81.5 406.6,81.6 415.7,81.7 424.8,81.7 433.9,81.8 443,84.4 452.1,87.1 461.2,90.4 470.3,94.3 479.4,98.2 488.5,102 497.6,105.8 506.7,110 515.8,114.6 524.9,119.2M381.9,73.9 391,74 400.1,74.2 409.2,74.4 418.3,74.5 427.4,74.6 436.5,77.9 445.6,81.2 454.7,84.8 463.8,88.7 472.9,92.6 482,96.8 491.1,101.1 500.2,105.5 509.3,110.1 518.4,114.8M375.3,66.4 384.4,66.6 393.5,66.9 402.6,67.1 411.7,67.4 420.8,67.6 429.9,71.5 439,75.4 448.1,79.3 457.2,83.2 466.3,87 475.4,91.7 484.5,96.4 493.6,101.1 502.7,105.8 511.8,110.4M480.3,190.9 473.7,182.9 467.2,174.9 460.6,167 454.1,159.1 447.5,151.2 440.9,143.4 434.4,135.6 427.8,127.8 421.2,120 414.7,112.2 408.1,104.4 401.6,96.6 395,89 388.4,81.4 381.9,73.9 375.3,66.4M489.4,189.5 482.8,181.7 476.3,173.8 469.7,166 463.2,158.2 456.6,150.5 450,142.8 443.5,135.1 436.9,127.4 430.3,119.7 423.8,111.9 417.2,104.2 410.7,96.6 404.1,89 397.5,81.5 391,74 384.4,66.6M498.5,188.1 491.9,180.4 485.4,172.6 478.8,165 472.2,157.3 465.7,149.7 459.1,142.1 452.6,134.6 446,127 439.4,119.3 432.9,111.7 426.3,104 419.8,96.5 413.2,89 406.6,81.6 400.1,74.2 393.5,66.9M507.6,187 501,179.3 494.5,171.7 487.9,164.1 481.4,156.5 474.8,149 468.2,141.5 461.7,134.1 455.1,126.6 448.5,119 442,111.4 435.4,103.9 428.9,96.4 422.3,89 415.7,81.7 409.2,74.4 402.6,67.1M516.7,186.1 510.1,178.5 503.6,171 497,163.5 490.4,156 483.9,148.5 477.3,141 470.8,133.6 464.2,126.1 457.6,118.7 451.1,111.2 444.5,103.7 437.9,96.3 431.4,89 424.8,81.7 418.3,74.5 411.7,67.4M525.8,185.1 519.2,177.7 512.7,170.2 506.1,162.8 499.6,155.4 493,147.9 486.4,140.5 479.9,133.1 473.3,125.7 466.7,118.3 460.2,110.9 453.6,103.5 447.1,96.2 440.5,88.9 433.9,81.8 427.4,74.6 420.8,67.6M534.9,183.9 528.3,176.6 521.8,169.4 515.2,162.1 508.7,154.9 502.1,147.7 495.5,140.4 489,133.2 482.4,126.1 475.8,118.9 469.3,111.8 462.7,104.7 456.2,97.8 449.6,91.1 443,84.4 436.5,77.9 429.9,71.5M544,182.6 537.4,175.6 530.9,168.5 524.3,161.5 517.8,154.5 511.2,147.4 504.6,140.4 498.1,133.3 491.5,126.4 484.9,119.5 478.4,112.7 471.8,105.9 465.2,99.4 458.7,93.2 452.1,87.1 445.6,81.2 439,75.4M553.1,181.4 546.5,174.7 540,168 533.4,161.2 526.9,154.5 520.3,147.7 513.7,141 507.2,134.3 500.6,127.6 494,121.1 487.5,114.6 480.9,108.2 474.4,102.1 467.8,96.2 461.2,90.4 454.7,84.8 448.1,79.3M562.2,180.3 555.6,174 549.1,167.6 542.5,161.3 536,155 529.4,148.6 522.8,142.3 516.3,135.9 509.7,129.7 503.1,123.6 496.6,117.6 490,111.6 483.4,105.7 476.9,100 470.3,94.3 463.8,88.7 457.2,83.2M571.3,179.2 564.7,173.3 558.2,167.3 551.6,161.4 545,155.5 538.5,149.5 531.9,143.5 525.4,137.6 518.8,131.8 512.2,126.1 505.7,120.5 499.1,115 492.6,109.4 486,103.8 479.4,98.2 472.9,92.6 466.3,87M580.4,179.1 573.8,173.5 567.3,167.9 560.7,162.3 554.1,156.7 547.6,151.1 541,145.5 534.5,139.9 527.9,134.3 521.3,128.8 514.8,123.3 508.2,117.9 501.6,112.5 495.1,107.2 488.5,102 482,96.8 475.4,91.7M589.5,178.9 582.9,173.7 576.4,168.5 569.8,163.3 563.2,158 556.7,152.7 550.1,147.5 543.6,142.2 537,136.9 530.4,131.5 523.9,126.1 517.3,120.8 510.8,115.7 504.2,110.7 497.6,105.8 491.1,101.1 484.5,96.4M598.6,179 592,174.2 585.5,169.3 578.9,164.5 572.4,159.6 565.8,154.7 559.2,149.8 552.7,144.8 546.1,139.8 539.5,134.7 533,129.5 526.4,124.4 519.9,119.4 513.3,114.7 506.7,110 500.2,105.5 493.6,101.1M607.7,179.3 601.1,174.9 594.6,170.4 588,166 581.5,161.5 574.9,157 568.3,152.5 561.8,147.9 555.2,143.3 548.6,138.5 542.1,133.5 535.5,128.6 529,123.8 522.4,119.2 515.8,114.6 509.3,110.1 502.7,105.8M616.8,179.6 610.2,175.6 603.7,171.5 597.1,167.4 590.5,163.3 584,159.2 577.4,155.1 570.9,151 564.3,146.7 557.7,142.2 551.2,137.5 544.6,132.8 538,128.1 531.5,123.6 524.9,119.2 518.4,114.8 511.8,110.4" fill="none" stroke="#0072BD" stroke-width="0.55" stroke-linejoin="round"/><path d="M480.3,187.5 489.4,185.1 482.8,177 473.7,179.4ZM489.4,185.1 498.5,182.6 491.9,174.6 482.8,177ZM498.5,182.6 507.6,180.3 501,172.4 491.9,174.6ZM507.6,180.3 516.7,178.1 510.1,170.2 501,172.4ZM516.7,178.1 525.8,175.9 519.2,168.1 510.1,170.2ZM525.8,175.9 534.9,174.8 528.3,167 519.2,168.1ZM534.9,174.8 544,173.7 537.4,166 528.3,167ZM544,173.7 553.1,172.9 546.5,165.3 537.4,166ZM553.1,172.9 562.2,172.5 555.6,164.9 546.5,165.3ZM562.2,172.5 571.3,172 564.7,164.6 555.6,164.9ZM571.3,172 580.4,172.8 573.8,165.8 564.7,164.6ZM580.4,172.8 589.5,173.6 582.9,166.9 573.8,165.8ZM589.5,173.6 598.6,174.4 592,168.3 582.9,166.9ZM598.6,174.4 607.7,175 601.1,169.9 592,168.3ZM607.7,175 616.8,175.6 610.2,171.4 601.1,169.9ZM473.7,179.4 482.8,177 476.3,168.9 467.2,171.3ZM482.8,177 491.9,174.6 485.4,166.6 476.3,168.9ZM491.9,174.6 501,172.4 494.5,164.4 485.4,166.6ZM501,172.4 510.1,170.2 503.6,162.3 494.5,164.4ZM510.1,170.2 519.2,168.1 512.7,160.2 503.6,162.3ZM519.2,168.1 528.3,167 521.8,159.3 512.7,160.2ZM528.3,167 537.4,166 530.9,158.3 521.8,159.3ZM537.4,166 546.5,165.3 540,157.6 530.9,158.3ZM546.5,165.3 555.6,164.9 549.1,157.3 540,157.6ZM555.6,164.9 564.7,164.6 558.2,157 549.1,157.3ZM564.7,164.6 573.8,165.8 567.3,158.5 558.2,157ZM573.8,165.8 582.9,166.9 576.4,160 567.3,158.5ZM582.9,166.9 592,168.3 585.5,161.9 576.4,160ZM592,168.3 601.1,169.9 594.6,164.2 585.5,161.9ZM601.1,169.9 610.2,171.4 603.7,166.4 594.6,164.2ZM467.2,171.3 476.3,168.9 469.7,160.9 460.6,163.1ZM476.3,168.9 485.4,166.6 478.8,158.7 469.7,160.9ZM485.4,166.6 494.5,164.4 487.9,156.5 478.8,158.7ZM494.5,164.4 503.6,162.3 497,154.5 487.9,156.5ZM503.6,162.3 512.7,160.2 506.1,152.4 497,154.5ZM512.7,160.2 521.8,159.3 515.2,151.5 506.1,152.4ZM521.8,159.3 530.9,158.3 524.3,150.5 515.2,151.5ZM530.9,158.3 540,157.6 533.4,149.9 524.3,150.5ZM540,157.6 549.1,157.3 542.5,149.6 533.4,149.9ZM549.1,157.3 558.2,157 551.6,149.3 542.5,149.6ZM558.2,157 567.3,158.5 560.7,151.1 551.6,149.3ZM567.3,158.5 576.4,160 569.8,152.9 560.7,151.1ZM576.4,160 585.5,161.9 578.9,155.3 569.8,152.9ZM585.5,161.9 594.6,164.2 588,158.1 578.9,155.3ZM594.6,164.2 603.7,166.4 597.1,160.8 588,158.1ZM460.6,163.1 469.7,160.9 463.2,152.9 454.1,155.1ZM469.7,160.9 478.8,158.7 472.2,150.7 463.2,152.9ZM478.8,158.7 487.9,156.5 481.4,148.6 472.2,150.7ZM487.9,156.5 497,154.5 490.4,146.6 481.4,148.6ZM497,154.5 506.1,152.4 499.6,144.5 490.4,146.6ZM506.1,152.4 515.2,151.5 508.7,143.6 499.6,144.5ZM515.2,151.5 524.3,150.5 517.8,142.7 508.7,143.6ZM524.3,150.5 533.4,149.9 526.9,142.1 517.8,142.7ZM533.4,149.9 542.5,149.6 536,141.8 526.9,142.1ZM542.5,149.6 551.6,149.3 545,141.5 536,141.8ZM551.6,149.3 560.7,151.1 554.1,143.6 545,141.5ZM560.7,151.1 569.8,152.9 563.2,145.7 554.1,143.6ZM569.8,152.9 578.9,155.3 572.4,148.4 563.2,145.7ZM578.9,155.3 588,158.1 581.5,151.7 572.4,148.4ZM588,158.1 597.1,160.8 590.5,155 581.5,151.7ZM454.1,155.1 463.2,152.9 456.6,144.9 447.5,147ZM463.2,152.9 472.2,150.7 465.7,142.8 456.6,144.9ZM472.2,150.7 481.4,148.6 474.8,140.7 465.7,142.8ZM481.4,148.6 490.4,146.6 483.9,138.7 474.8,140.7ZM490.4,146.6 499.6,144.5 493,136.6 483.9,138.7ZM499.6,144.5 508.7,143.6 502.1,135.7 493,136.6ZM508.7,143.6 517.8,142.7 511.2,134.8 502.1,135.7ZM517.8,142.7 526.9,142.1 520.3,134.2 511.2,134.8ZM526.9,142.1 536,141.8 529.4,133.9 520.3,134.2ZM536,141.8 545,141.5 538.5,133.5 529.4,133.9ZM545,141.5 554.1,143.6 547.6,135.8 538.5,133.5ZM554.1,143.6 563.2,145.7 556.7,138.1 547.6,135.8ZM563.2,145.7 572.4,148.4 565.8,141 556.7,138.1ZM572.4,148.4 581.5,151.7 574.9,144.4 565.8,141ZM581.5,151.7 590.5,155 584,147.9 574.9,144.4ZM447.5,147 456.6,144.9 450,136.9 440.9,139ZM456.6,144.9 465.7,142.8 459.1,134.8 450,136.9ZM465.7,142.8 474.8,140.7 468.2,132.8 459.1,134.8ZM474.8,140.7 483.9,138.7 477.3,130.7 468.2,132.8ZM483.9,138.7 493,136.6 486.4,128.7 477.3,130.7ZM493,136.6 502.1,135.7 495.5,127.8 486.4,128.7ZM502.1,135.7 511.2,134.8 504.6,126.9 495.5,127.8ZM511.2,134.8 520.3,134.2 513.7,126.2 504.6,126.9ZM520.3,134.2 529.4,133.9 522.8,125.7 513.7,126.2ZM529.4,133.9 538.5,133.5 531.9,125.3 522.8,125.7ZM538.5,133.5 547.6,135.8 541,127.8 531.9,125.3ZM547.6,135.8 556.7,138.1 550.1,130.2 541,127.8ZM556.7,138.1 565.8,141 559.2,133 550.1,130.2ZM565.8,141 574.9,144.4 568.3,136.1 559.2,133ZM574.9,144.4 584,147.9 577.4,139.3 568.3,136.1ZM440.9,139 450,136.9 443.5,128.9 434.4,131ZM450,136.9 459.1,134.8 452.6,126.9 443.5,128.9ZM459.1,134.8 468.2,132.8 461.7,124.9 452.6,126.9ZM468.2,132.8 477.3,130.7 470.8,122.8 461.7,124.9ZM477.3,130.7 486.4,128.7 479.9,120.8 470.8,122.8ZM486.4,128.7 495.5,127.8 489,119.9 479.9,120.8ZM495.5,127.8 504.6,126.9 498.1,118.9 489,119.9ZM504.6,126.9 513.7,126.2 507.2,118.2 498.1,118.9ZM513.7,126.2 522.8,125.7 516.3,117.6 507.2,118.2ZM522.8,125.7 531.9,125.3 525.4,117.1 516.3,117.6ZM531.9,125.3 541,127.8 534.5,119.7 525.4,117.1ZM541,127.8 550.1,130.2 543.6,122.4 534.5,119.7ZM550.1,130.2 559.2,133 552.7,125.1 543.6,122.4ZM559.2,133 568.3,136.1 561.8,127.8 552.7,125.1ZM568.3,136.1 577.4,139.3 570.9,130.6 561.8,127.8ZM434.4,131 443.5,128.9 436.9,121 427.8,123ZM443.5,128.9 452.6,126.9 446,119 436.9,121ZM452.6,126.9 461.7,124.9 455.1,117 446,119ZM461.7,124.9 470.8,122.8 464.2,115 455.1,117ZM470.8,122.8 479.9,120.8 473.3,112.9 464.2,115ZM479.9,120.8 489,119.9 482.4,112 473.3,112.9ZM489,119.9 498.1,118.9 491.5,111.1 482.4,112ZM498.1,118.9 507.2,118.2 500.6,110.4 491.5,111.1ZM507.2,118.2 516.3,117.6 509.7,109.8 500.6,110.4ZM516.3,117.6 525.4,117.1 518.8,109.2 509.7,109.8ZM525.4,117.1 534.5,119.7 527.9,112.1 518.8,109.2ZM534.5,119.7 543.6,122.4 537,114.9 527.9,112.1ZM543.6,122.4 552.7,125.1 546.1,117.7 537,114.9ZM552.7,125.1 561.8,127.8 555.2,120.4 546.1,117.7ZM561.8,127.8 570.9,130.6 564.3,123.1 555.2,120.4ZM427.8,123 436.9,121 430.3,113 421.2,115ZM436.9,121 446,119 439.4,111.1 430.3,113ZM446,119 455.1,117 448.5,109.1 439.4,111.1ZM455.1,117 464.2,115 457.6,107.1 448.5,109.1ZM464.2,115 473.3,112.9 466.7,105.1 457.6,107.1ZM473.3,112.9 482.4,112 475.8,104.3 466.7,105.1ZM482.4,112 491.5,111.1 484.9,103.5 475.8,104.3ZM491.5,111.1 500.6,110.4 494,102.8 484.9,103.5ZM500.6,110.4 509.7,109.8 503.1,102.2 494,102.8ZM509.7,109.8 518.8,109.2 512.2,101.6 503.1,102.2ZM518.8,109.2 527.9,112.1 521.3,104.8 512.2,101.6ZM527.9,112.1 537,114.9 530.4,107.9 521.3,104.8ZM537,114.9 546.1,117.7 539.5,111 530.4,107.9ZM546.1,117.7 555.2,120.4 548.6,113.9 539.5,111ZM555.2,120.4 564.3,123.1 557.7,116.9 548.6,113.9ZM421.2,115 430.3,113 423.8,105 414.7,107ZM430.3,113 439.4,111.1 432.9,103.1 423.8,105ZM439.4,111.1 448.5,109.1 442,101.2 432.9,103.1ZM448.5,109.1 457.6,107.1 451.1,99.3 442,101.2ZM457.6,107.1 466.7,105.1 460.2,97.4 451.1,99.3ZM466.7,105.1 475.8,104.3 469.3,96.7 460.2,97.4ZM475.8,104.3 484.9,103.5 478.4,96 469.3,96.7ZM484.9,103.5 494,102.8 487.5,95.4 478.4,96ZM494,102.8 503.1,102.2 496.6,94.8 487.5,95.4ZM503.1,102.2 512.2,101.6 505.7,94.3 496.6,94.8ZM512.2,101.6 521.3,104.8 514.8,97.7 505.7,94.3ZM521.3,104.8 530.4,107.9 523.9,101.2 514.8,97.7ZM530.4,107.9 539.5,111 533,104.5 523.9,101.2ZM539.5,111 548.6,113.9 542.1,107.8 533,104.5ZM548.6,113.9 557.7,116.9 551.2,111.1 542.1,107.8ZM414.7,107 423.8,105 417.2,97.1 408.1,99ZM423.8,105 432.9,103.1 426.3,95.3 417.2,97.1ZM432.9,103.1 442,101.2 435.4,93.4 426.3,95.3ZM442,101.2 451.1,99.3 444.5,91.5 435.4,93.4ZM451.1,99.3 460.2,97.4 453.6,89.7 444.5,91.5ZM460.2,97.4 469.3,96.7 462.7,89.1 453.6,89.7ZM469.3,96.7 478.4,96 471.8,88.6 462.7,89.1ZM478.4,96 487.5,95.4 480.9,88 471.8,88.6ZM487.5,95.4 496.6,94.8 490,87.5 480.9,88ZM496.6,94.8 505.7,94.3 499.1,87 490,87.5ZM505.7,94.3 514.8,97.7 508.2,90.8 499.1,87ZM514.8,97.7 523.9,101.2 517.3,94.6 508.2,90.8ZM523.9,101.2 533,104.5 526.4,98.3 517.3,94.6ZM533,104.5 542.1,107.8 535.5,102 526.4,98.3ZM542.1,107.8 551.2,111.1 544.6,105.7 535.5,102ZM408.1,99 417.2,97.1 410.7,89.2 401.6,91.1ZM417.2,97.1 426.3,95.3 419.8,87.4 410.7,89.2ZM426.3,95.3 435.4,93.4 428.9,85.6 419.8,87.4ZM435.4,93.4 444.5,91.5 437.9,83.7 428.9,85.6ZM444.5,91.5 453.6,89.7 447.1,81.9 437.9,83.7ZM453.6,89.7 462.7,89.1 456.2,81.5 447.1,81.9ZM462.7,89.1 471.8,88.6 465.2,81 456.2,81.5ZM471.8,88.6 480.9,88 474.4,80.6 465.2,81ZM480.9,88 490,87.5 483.4,80.2 474.4,80.6ZM490,87.5 499.1,87 492.6,79.8 483.4,80.2ZM499.1,87 508.2,90.8 501.6,83.9 492.6,79.8ZM508.2,90.8 517.3,94.6 510.8,88 501.6,83.9ZM517.3,94.6 526.4,98.3 519.9,92.1 510.8,88ZM526.4,98.3 535.5,102 529,96.2 519.9,92.1ZM535.5,102 544.6,105.7 538,100.3 529,96.2ZM401.6,91.1 410.7,89.2 404.1,81.4 395,83.2ZM410.7,89.2 419.8,87.4 413.2,79.6 404.1,81.4ZM419.8,87.4 428.9,85.6 422.3,77.7 413.2,79.6ZM428.9,85.6 437.9,83.7 431.4,75.9 422.3,77.7ZM437.9,83.7 447.1,81.9 440.5,74.1 431.4,75.9ZM447.1,81.9 456.2,81.5 449.6,73.8 440.5,74.1ZM456.2,81.5 465.2,81 458.7,73.5 449.6,73.8ZM465.2,81 474.4,80.6 467.8,73.2 458.7,73.5ZM474.4,80.6 483.4,80.2 476.9,72.8 467.8,73.2ZM483.4,80.2 492.6,79.8 486,72.5 476.9,72.8ZM492.6,79.8 501.6,83.9 495.1,77 486,72.5ZM501.6,83.9 510.8,88 504.2,81.5 495.1,77ZM510.8,88 519.9,92.1 513.3,86 504.2,81.5ZM519.9,92.1 529,96.2 522.4,90.4 513.3,86ZM529,96.2 538,100.3 531.5,94.9 522.4,90.4ZM395,83.2 404.1,81.4 397.5,73.6 388.4,75.4ZM404.1,81.4 413.2,79.6 406.6,71.8 397.5,73.6ZM413.2,79.6 422.3,77.7 415.7,70 406.6,71.8ZM422.3,77.7 431.4,75.9 424.8,68.1 415.7,70ZM431.4,75.9 440.5,74.1 433.9,66.3 424.8,68.1ZM440.5,74.1 449.6,73.8 443,66.1 433.9,66.3ZM449.6,73.8 458.7,73.5 452.1,65.9 443,66.1ZM458.7,73.5 467.8,73.2 461.2,65.7 452.1,65.9ZM467.8,73.2 476.9,72.8 470.3,65.5 461.2,65.7ZM476.9,72.8 486,72.5 479.4,65.2 470.3,65.5ZM486,72.5 495.1,77 488.5,70.1 479.4,65.2ZM495.1,77 504.2,81.5 497.6,75 488.5,70.1ZM504.2,81.5 513.3,86 506.7,79.9 497.6,75ZM513.3,86 522.4,90.4 515.8,84.8 506.7,79.9ZM522.4,90.4 531.5,94.9 524.9,89.6 515.8,84.8ZM388.4,75.4 397.5,73.6 391,65.9 381.9,67.7ZM397.5,73.6 406.6,71.8 400.1,64 391,65.9ZM406.6,71.8 415.7,70 409.2,62.2 400.1,64ZM415.7,70 424.8,68.1 418.3,60.3 409.2,62.2ZM424.8,68.1 433.9,66.3 427.4,58.4 418.3,60.3ZM433.9,66.3 443,66.1 436.5,58.4 427.4,58.4ZM443,66.1 452.1,65.9 445.6,58.3 436.5,58.4ZM452.1,65.9 461.2,65.7 454.7,58.2 445.6,58.3ZM461.2,65.7 470.3,65.5 463.8,58.1 454.7,58.2ZM470.3,65.5 479.4,65.2 472.9,58 463.8,58.1ZM479.4,65.2 488.5,70.1 482,63.4 472.9,58ZM488.5,70.1 497.6,75 491.1,68.7 482,63.4ZM497.6,75 506.7,79.9 500.2,74 491.1,68.7ZM506.7,79.9 515.8,84.8 509.3,79.3 500.2,74ZM515.8,84.8 524.9,89.6 518.4,84.5 509.3,79.3ZM381.9,67.7 391,65.9 384.4,58.2 375.3,60.1ZM391,65.9 400.1,64 393.5,56.3 384.4,58.2ZM400.1,64 409.2,62.2 402.6,54.4 393.5,56.3ZM409.2,62.2 418.3,60.3 411.7,52.5 402.6,54.4ZM418.3,60.3 427.4,58.4 420.8,50.6 411.7,52.5ZM427.4,58.4 436.5,58.4 429.9,50.6 420.8,50.6ZM436.5,58.4 445.6,58.3 439,50.7 429.9,50.6ZM445.6,58.3 454.7,58.2 448.1,50.8 439,50.7ZM454.7,58.2 463.8,58.1 457.2,50.8 448.1,50.8ZM463.8,58.1 472.9,58 466.3,50.8 457.2,50.8ZM472.9,58 482,63.4 475.4,56.6 466.3,50.8ZM482,63.4 491.1,68.7 484.5,62.4 475.4,56.6ZM491.1,68.7 500.2,74 493.6,68.1 484.5,62.4ZM500.2,74 509.3,79.3 502.7,73.8 493.6,68.1ZM509.3,79.3 518.4,84.5 511.8,79.5 502.7,73.8Z" fill="#EDB120" fill-opacity="0.3" stroke="none"/><path d="M480.3,187.5 489.4,185.1 498.5,182.6 507.6,180.3 516.7,178.1 525.8,175.9 534.9,174.8 544,173.7 553.1,172.9 562.2,172.5 571.3,172 580.4,172.8 589.5,173.6 598.6,174.4 607.7,175 616.8,175.6M473.7,179.4 482.8,177 491.9,174.6 501,172.4 510.1,170.2 519.2,168.1 528.3,167 537.4,166 546.5,165.3 555.6,164.9 564.7,164.6 573.8,165.8 582.9,166.9 592,168.3 601.1,169.9 610.2,171.4M467.2,171.3 476.3,168.9 485.4,166.6 494.5,164.4 503.6,162.3 512.7,160.2 521.8,159.3 530.9,158.3 540,157.6 549.1,157.3 558.2,157 567.3,158.5 576.4,160 585.5,161.9 594.6,164.2 603.7,166.4M460.6,163.1 469.7,160.9 478.8,158.7 487.9,156.5 497,154.5 506.1,152.4 515.2,151.5 524.3,150.5 533.4,149.9 542.5,149.6 551.6,149.3 560.7,151.1 569.8,152.9 578.9,155.3 588,158.1 597.1,160.8M454.1,155.1 463.2,152.9 472.2,150.7 481.4,148.6 490.4,146.6 499.6,144.5 508.7,143.6 517.8,142.7 526.9,142.1 536,141.8 545,141.5 554.1,143.6 563.2,145.7 572.4,148.4 581.5,151.7 590.5,155M447.5,147 456.6,144.9 465.7,142.8 474.8,140.7 483.9,138.7 493,136.6 502.1,135.7 511.2,134.8 520.3,134.2 529.4,133.9 538.5,133.5 547.6,135.8 556.7,138.1 565.8,141 574.9,144.4 584,147.9M440.9,139 450,136.9 459.1,134.8 468.2,132.8 477.3,130.7 486.4,128.7 495.5,127.8 504.6,126.9 513.7,126.2 522.8,125.7 531.9,125.3 541,127.8 550.1,130.2 559.2,133 568.3,136.1 577.4,139.3M434.4,131 443.5,128.9 452.6,126.9 461.7,124.9 470.8,122.8 479.9,120.8 489,119.9 498.1,118.9 507.2,118.2 516.3,117.6 525.4,117.1 534.5,119.7 543.6,122.4 552.7,125.1 561.8,127.8 570.9,130.6M427.8,123 436.9,121 446,119 455.1,117 464.2,115 473.3,112.9 482.4,112 491.5,111.1 500.6,110.4 509.7,109.8 518.8,109.2 527.9,112.1 537,114.9 546.1,117.7 555.2,120.4 564.3,123.1M421.2,115 430.3,113 439.4,111.1 448.5,109.1 457.6,107.1 466.7,105.1 475.8,104.3 484.9,103.5 494,102.8 503.1,102.2 512.2,101.6 521.3,104.8 530.4,107.9 539.5,111 548.6,113.9 557.7,116.9M414.7,107 423.8,105 432.9,103.1 442,101.2 451.1,99.3 460.2,97.4 469.3,96.7 478.4,96 487.5,95.4 496.6,94.8 505.7,94.3 514.8,97.7 523.9,101.2 533,104.5 542.1,107.8 551.2,111.1M408.1,99 417.2,97.1 426.3,95.3 435.4,93.4 444.5,91.5 453.6,89.7 462.7,89.1 471.8,88.6 480.9,88 490,87.5 499.1,87 508.2,90.8 517.3,94.6 526.4,98.3 535.5,102 544.6,105.7M401.6,91.1 410.7,89.2 419.8,87.4 428.9,85.6 437.9,83.7 447.1,81.9 456.2,81.5 465.2,81 474.4,80.6 483.4,80.2 492.6,79.8 501.6,83.9 510.8,88 519.9,92.1 529,96.2 538,100.3M395,83.2 404.1,81.4 413.2,79.6 422.3,77.7 431.4,75.9 440.5,74.1 449.6,73.8 458.7,73.5 467.8,73.2 476.9,72.8 486,72.5 495.1,77 504.2,81.5 513.3,86 522.4,90.4 531.5,94.9M388.4,75.4 397.5,73.6 406.6,71.8 415.7,70 424.8,68.1 433.9,66.3 443,66.1 452.1,65.9 461.2,65.7 470.3,65.5 479.4,65.2 488.5,70.1 497.6,75 506.7,79.9 515.8,84.8 524.9,89.6M381.9,67.7 391,65.9 400.1,64 409.2,62.2 418.3,60.3 427.4,58.4 436.5,58.4 445.6,58.3 454.7,58.2 463.8,58.1 472.9,58 482,63.4 491.1,68.7 500.2,74 509.3,79.3 518.4,84.5M375.3,60.1 384.4,58.2 393.5,56.3 402.6,54.4 411.7,52.5 420.8,50.6 429.9,50.6 439,50.7 448.1,50.8 457.2,50.8 466.3,50.8 475.4,56.6 484.5,62.4 493.6,68.1 502.7,73.8 511.8,79.5M480.3,187.5 473.7,179.4 467.2,171.3 460.6,163.1 454.1,155.1 447.5,147 440.9,139 434.4,131 427.8,123 421.2,115 414.7,107 408.1,99 401.6,91.1 395,83.2 388.4,75.4 381.9,67.7 375.3,60.1M489.4,185.1 482.8,177 476.3,168.9 469.7,160.9 463.2,152.9 456.6,144.9 450,136.9 443.5,128.9 436.9,121 430.3,113 423.8,105 417.2,97.1 410.7,89.2 404.1,81.4 397.5,73.6 391,65.9 384.4,58.2M498.5,182.6 491.9,174.6 485.4,166.6 478.8,158.7 472.2,150.7 465.7,142.8 459.1,134.8 452.6,126.9 446,119 439.4,111.1 432.9,103.1 426.3,95.3 419.8,87.4 413.2,79.6 406.6,71.8 400.1,64 393.5,56.3M507.6,180.3 501,172.4 494.5,164.4 487.9,156.5 481.4,148.6 474.8,140.7 468.2,132.8 461.7,124.9 455.1,117 448.5,109.1 442,101.2 435.4,93.4 428.9,85.6 422.3,77.7 415.7,70 409.2,62.2 402.6,54.4M516.7,178.1 510.1,170.2 503.6,162.3 497,154.5 490.4,146.6 483.9,138.7 477.3,130.7 470.8,122.8 464.2,115 457.6,107.1 451.1,99.3 444.5,91.5 437.9,83.7 431.4,75.9 424.8,68.1 418.3,60.3 411.7,52.5M525.8,175.9 519.2,168.1 512.7,160.2 506.1,152.4 499.6,144.5 493,136.6 486.4,128.7 479.9,120.8 473.3,112.9 466.7,105.1 460.2,97.4 453.6,89.7 447.1,81.9 440.5,74.1 433.9,66.3 427.4,58.4 420.8,50.6M534.9,174.8 528.3,167 521.8,159.3 515.2,151.5 508.7,143.6 502.1,135.7 495.5,127.8 489,119.9 482.4,112 475.8,104.3 469.3,96.7 462.7,89.1 456.2,81.5 449.6,73.8 443,66.1 436.5,58.4 429.9,50.6M544,173.7 537.4,166 530.9,158.3 524.3,150.5 517.8,142.7 511.2,134.8 504.6,126.9 498.1,118.9 491.5,111.1 484.9,103.5 478.4,96 471.8,88.6 465.2,81 458.7,73.5 452.1,65.9 445.6,58.3 439,50.7M553.1,172.9 546.5,165.3 540,157.6 533.4,149.9 526.9,142.1 520.3,134.2 513.7,126.2 507.2,118.2 500.6,110.4 494,102.8 487.5,95.4 480.9,88 474.4,80.6 467.8,73.2 461.2,65.7 454.7,58.2 448.1,50.8M562.2,172.5 555.6,164.9 549.1,157.3 542.5,149.6 536,141.8 529.4,133.9 522.8,125.7 516.3,117.6 509.7,109.8 503.1,102.2 496.6,94.8 490,87.5 483.4,80.2 476.9,72.8 470.3,65.5 463.8,58.1 457.2,50.8M571.3,172 564.7,164.6 558.2,157 551.6,149.3 545,141.5 538.5,133.5 531.9,125.3 525.4,117.1 518.8,109.2 512.2,101.6 505.7,94.3 499.1,87 492.6,79.8 486,72.5 479.4,65.2 472.9,58 466.3,50.8M580.4,172.8 573.8,165.8 567.3,158.5 560.7,151.1 554.1,143.6 547.6,135.8 541,127.8 534.5,119.7 527.9,112.1 521.3,104.8 514.8,97.7 508.2,90.8 501.6,83.9 495.1,77 488.5,70.1 482,63.4 475.4,56.6M589.5,173.6 582.9,166.9 576.4,160 569.8,152.9 563.2,145.7 556.7,138.1 550.1,130.2 543.6,122.4 537,114.9 530.4,107.9 523.9,101.2 517.3,94.6 510.8,88 504.2,81.5 497.6,75 491.1,68.7 484.5,62.4M598.6,174.4 592,168.3 585.5,161.9 578.9,155.3 572.4,148.4 565.8,141 559.2,133 552.7,125.1 546.1,117.7 539.5,111 533,104.5 526.4,98.3 519.9,92.1 513.3,86 506.7,79.9 500.2,74 493.6,68.1M607.7,175 601.1,169.9 594.6,164.2 588,158.1 581.5,151.7 574.9,144.4 568.3,136.1 561.8,127.8 555.2,120.4 548.6,113.9 542.1,107.8 535.5,102 529,96.2 522.4,90.4 515.8,84.8 509.3,79.3 502.7,73.8M616.8,175.6 610.2,171.4 603.7,166.4 597.1,160.8 590.5,155 584,147.9 577.4,139.3 570.9,130.6 564.3,123.1 557.7,116.9 551.2,111.1 544.6,105.7 538,100.3 531.5,94.9 524.9,89.6 518.4,84.5 511.8,79.5" fill="none" stroke="#EDB120" stroke-width="0.55" stroke-linejoin="round"/><line x1="375.3" y1="182.2" x2="375.3" y2="54.9" stroke="#a4a4a4" stroke-width="0.8"/><line x1="375.3" y1="182.2" x2="480.3" y2="241.1" stroke="#a4a4a4" stroke-width="0.8"/><line x1="480.3" y1="241.1" x2="616.8" y2="195.1" stroke="#a4a4a4" stroke-width="0.8"/><line x1="375.3" y1="182.2" x2="372.1" y2="183.3" stroke="#a4a4a4" stroke-width="0.8"/><line x1="375.3" y1="166.3" x2="372.1" y2="167.4" stroke="#a4a4a4" stroke-width="0.8"/><line x1="375.3" y1="150.4" x2="372.1" y2="151.4" stroke="#a4a4a4" stroke-width="0.8"/><line x1="375.3" y1="134.5" x2="372.1" y2="135.5" stroke="#a4a4a4" stroke-width="0.8"/><line x1="375.3" y1="118.5" x2="372.1" y2="119.6" stroke="#a4a4a4" stroke-width="0.8"/><line x1="375.3" y1="102.6" x2="372.1" y2="103.7" stroke="#a4a4a4" stroke-width="0.8"/><line x1="375.3" y1="86.7" x2="372.1" y2="87.8" stroke="#a4a4a4" stroke-width="0.8"/><line x1="375.3" y1="70.8" x2="372.1" y2="71.8" stroke="#a4a4a4" stroke-width="0.8"/><line x1="375.3" y1="54.9" x2="372.1" y2="55.9" stroke="#a4a4a4" stroke-width="0.8"/><line x1="480.3" y1="241.1" x2="477.1" y2="242.2" stroke="#a4a4a4" stroke-width="0.8"/><line x1="454" y1="226.4" x2="450.9" y2="227.4" stroke="#a4a4a4" stroke-width="0.8"/><line x1="427.8" y1="211.6" x2="424.6" y2="212.7" stroke="#a4a4a4" stroke-width="0.8"/><line x1="401.6" y1="196.9" x2="398.4" y2="198" stroke="#a4a4a4" stroke-width="0.8"/><line x1="375.3" y1="182.2" x2="372.1" y2="183.3" stroke="#a4a4a4" stroke-width="0.8"/><line x1="480.3" y1="241.1" x2="483.4" y2="242.9" stroke="#a4a4a4" stroke-width="0.8"/><line x1="503.1" y1="233.4" x2="506.2" y2="235.2" stroke="#a4a4a4" stroke-width="0.8"/><line x1="525.8" y1="225.8" x2="529" y2="227.5" stroke="#a4a4a4" stroke-width="0.8"/><line x1="548.5" y1="218.1" x2="551.7" y2="219.9" stroke="#a4a4a4" stroke-width="0.8"/><line x1="571.3" y1="210.4" x2="574.5" y2="212.2" stroke="#a4a4a4" stroke-width="0.8"/><line x1="594" y1="202.8" x2="597.2" y2="204.5" stroke="#a4a4a4" stroke-width="0.8"/><line x1="616.8" y1="195.1" x2="620" y2="196.9" stroke="#a4a4a4" stroke-width="0.8"/><text x="370.7" y="183.7" font-size="8.9" font-weight="bold" text-anchor="end" >0</text><text x="370.7" y="167.8" font-size="8.9" font-weight="bold" text-anchor="end" >200</text><text x="370.7" y="151.9" font-size="8.9" font-weight="bold" text-anchor="end" >400</text><text x="370.7" y="136" font-size="8.9" font-weight="bold" text-anchor="end" >600</text><text x="370.7" y="120" font-size="8.9" font-weight="bold" text-anchor="end" >800</text><text x="370.7" y="104.1" font-size="8.9" font-weight="bold" text-anchor="end" >1000</text><text x="370.7" y="88.2" font-size="8.9" font-weight="bold" text-anchor="end" >1200</text><text x="370.7" y="72.3" font-size="8.9" font-weight="bold" text-anchor="end" >1400</text><text x="370.7" y="56.4" font-size="8.9" font-weight="bold" text-anchor="end" >1600</text><text x="369.9" y="193.2" font-size="8.9" font-weight="bold" text-anchor="end" >0.7</text><text x="396.2" y="207.9" font-size="8.9" font-weight="bold" text-anchor="end" >0.6</text><text x="422.4" y="222.6" font-size="8.9" font-weight="bold" text-anchor="end" >0.5</text><text x="448.6" y="237.4" font-size="8.9" font-weight="bold" text-anchor="end" >0.4</text><text x="474.9" y="252.1" font-size="8.9" font-weight="bold" text-anchor="end" >0.3</text><text x="485.6" y="252.8" font-size="8.9" font-weight="bold" text-anchor="start" >100</text><text x="508.4" y="245.1" font-size="8.9" font-weight="bold" text-anchor="start" >150</text><text x="531.1" y="237.5" font-size="8.9" font-weight="bold" text-anchor="start" >200</text><text x="553.8" y="229.8" font-size="8.9" font-weight="bold" text-anchor="start" >250</text><text x="576.6" y="222.1" font-size="8.9" font-weight="bold" text-anchor="start" >300</text><text x="599.3" y="214.5" font-size="8.9" font-weight="bold" text-anchor="start" >350</text><text x="622.1" y="206.8" font-size="8.9" font-weight="bold" text-anchor="start" >400</text><text x="27.3" y="8.9" font-size="10" font-weight="bold" text-anchor="start" style="stroke-width:0.08px">Diagram of initial energy, network area and network lifetime</text><text x="366" y="8.9" font-size="10" font-weight="bold" text-anchor="start" style="stroke-width:0.08px">Diagram of initial energy, network area and network lifetime</text><rect x="290.1" y="11.2" width="50.69999999999999" height="28.2" fill="#fff" stroke="#dcdcdc" stroke-width="0.7"/><rect x="291.1" y="13.299999999999999" width="9.8" height="6.8" fill="#4DBEEE" fill-opacity="0.3" stroke="#4DBEEE" stroke-opacity="0.45" stroke-width="0.5"/><text x="302.3" y="19.7" font-size="7.6" font-weight="bold" text-anchor="start" >Leach</text><rect x="291.1" y="22.3" width="9.8" height="6.8" fill="#77AC30" fill-opacity="0.3" stroke="#77AC30" stroke-opacity="0.45" stroke-width="0.5"/><text x="302.3" y="28.7" font-size="7.6" font-weight="bold" text-anchor="start" >Leach-C</text><rect x="291.1" y="31.3" width="9.8" height="6.8" fill="#D95319" fill-opacity="0.3" stroke="#D95319" stroke-opacity="0.45" stroke-width="0.5"/><text x="302.3" y="37.7" font-size="7.6" font-weight="bold" text-anchor="start" >Leach-SSA</text><rect x="626.2" y="11.0" width="57.5" height="28.4" fill="#fff" stroke="#dcdcdc" stroke-width="0.7"/><rect x="627.2" y="13.1" width="9.8" height="6.8" fill="#D95319" fill-opacity="0.3" stroke="#D95319" stroke-opacity="0.45" stroke-width="0.5"/><text x="638.4" y="19.5" font-size="7.6" font-weight="bold" text-anchor="start" >Leach-SSA</text><rect x="627.2" y="22.099999999999998" width="9.8" height="6.8" fill="#0072BD" fill-opacity="0.3" stroke="#0072BD" stroke-opacity="0.45" stroke-width="0.5"/><text x="638.4" y="28.5" font-size="7.6" font-weight="bold" text-anchor="start" >Leach-SSSA</text><rect x="627.2" y="31.099999999999998" width="9.8" height="6.8" fill="#EDB120" fill-opacity="0.3" stroke="#EDB120" stroke-opacity="0.45" stroke-width="0.5"/><text x="638.4" y="37.5" font-size="7.6" font-weight="bold" text-anchor="start" >Leach-MSSA</text><text x="79.6" y="249" font-size="8.6" font-weight="bold" text-anchor="start" >Eo</text><text transform="translate(8,119) rotate(-90)" font-size="8.6" font-weight="bold" text-anchor="middle">Network lifetime</text><text x="419.1" y="249" font-size="8.6" font-weight="bold" text-anchor="start" >Eo</text><text transform="translate(347.5,119) rotate(-90)" font-size="8.6" font-weight="bold" text-anchor="middle">Network lifetime</text><text x="203.2" y="252.2" font-size="8.6" font-weight="bold" text-anchor="start" >Area</text><text x="541.3" y="252.6" font-size="8.6" font-weight="bold" text-anchor="start" >Area</text><text x="134.4" y="277.4" font-size="12.5" font-weight="normal" text-anchor="middle" style="stroke-width:0.1px">(a)</text><text x="492.8" y="277.8" font-size="12.5" font-weight="normal" text-anchor="middle" style="stroke-width:0.1px">(b)</text></svg></body></html>
